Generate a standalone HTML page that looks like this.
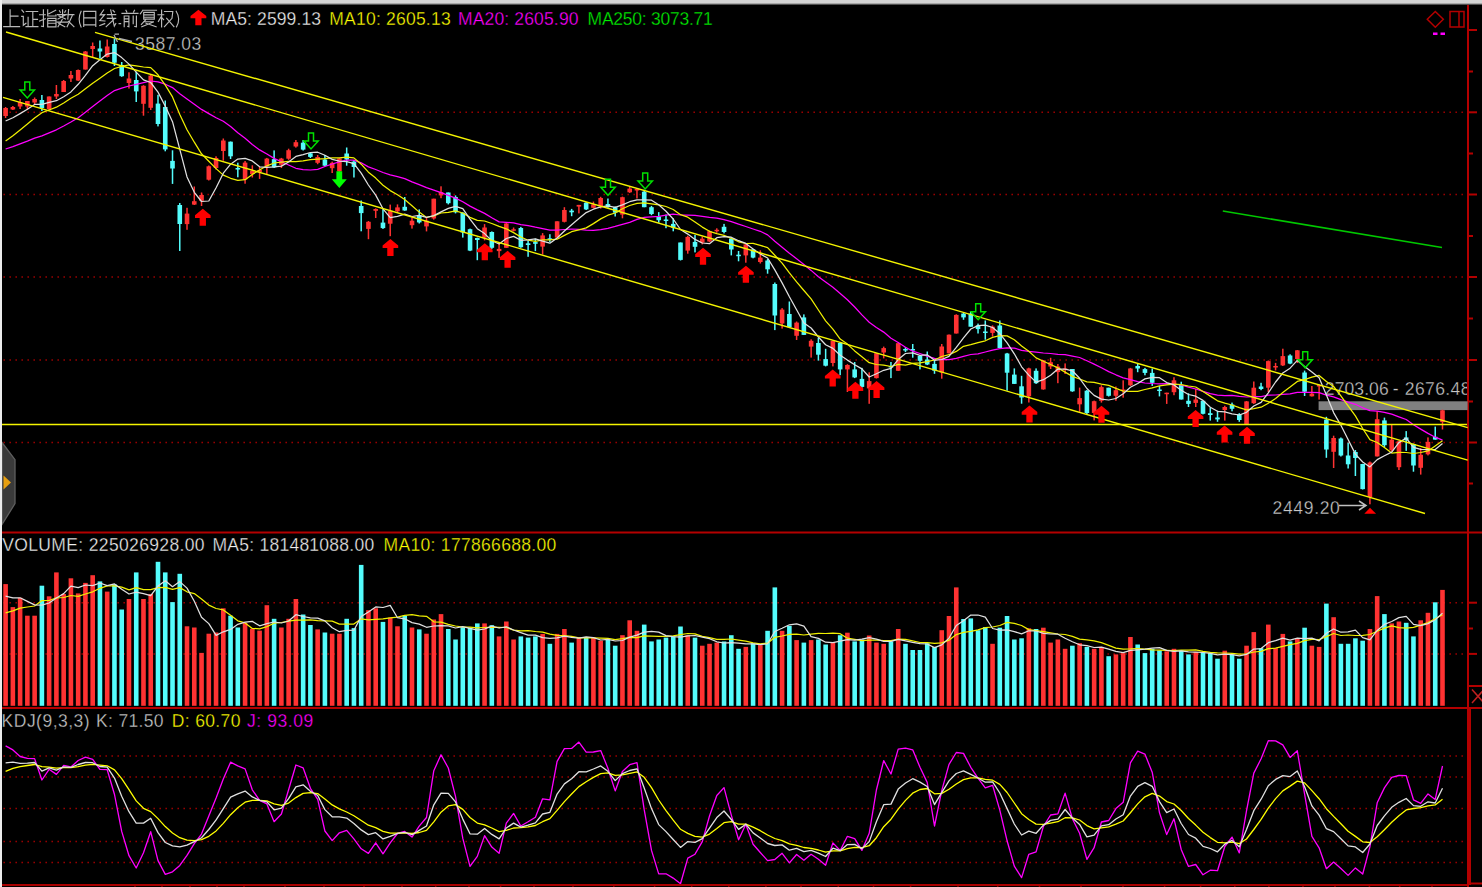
<!DOCTYPE html><html><head><meta charset="utf-8"><style>html,body{margin:0;padding:0;background:#000;width:1482px;height:887px;overflow:hidden;position:relative}</style></head><body><svg width="1482" height="887" viewBox="0 0 1482 887" style="position:absolute;left:0;top:0">
<rect x="0" y="0" width="1482" height="887" fill="#000"/>
<rect x="0" y="0" width="1482" height="3" fill="#d4d4d4"/>
<rect x="0" y="3" width="1482" height="1" fill="#a8a8a8"/>
<rect x="0" y="4" width="1482" height="1" fill="#505050"/>
<rect x="0" y="0" width="2" height="887" fill="#ececec"/>
<line x1="3.45" y1="112.3" x2="1465" y2="112.3" stroke="#a00000" stroke-width="1.5" stroke-dasharray="1.5 4.5"/>
<line x1="3.45" y1="194.5" x2="1465" y2="194.5" stroke="#a00000" stroke-width="1.5" stroke-dasharray="1.5 4.5"/>
<line x1="3.45" y1="277" x2="1465" y2="277" stroke="#a00000" stroke-width="1.5" stroke-dasharray="1.5 4.5"/>
<line x1="3.45" y1="360" x2="1465" y2="360" stroke="#a00000" stroke-width="1.5" stroke-dasharray="1.5 4.5"/>
<line x1="3.45" y1="442.5" x2="1465" y2="442.5" stroke="#a00000" stroke-width="1.5" stroke-dasharray="1.5 4.5"/>
<line x1="3.45" y1="602.7" x2="1465" y2="602.7" stroke="#a00000" stroke-width="1.5" stroke-dasharray="1.5 4.5"/>
<line x1="3.45" y1="653.9" x2="1465" y2="653.9" stroke="#a00000" stroke-width="1.5" stroke-dasharray="1.5 4.5"/>
<line x1="3.45" y1="756" x2="1465" y2="756" stroke="#a00000" stroke-width="1.5" stroke-dasharray="1.5 4.5"/>
<line x1="3.45" y1="777" x2="1465" y2="777" stroke="#a00000" stroke-width="1.5" stroke-dasharray="1.5 4.5"/>
<line x1="3.45" y1="808.6" x2="1465" y2="808.6" stroke="#a00000" stroke-width="1.5" stroke-dasharray="1.5 4.5"/>
<line x1="3.45" y1="841.6" x2="1465" y2="841.6" stroke="#a00000" stroke-width="1.5" stroke-dasharray="1.5 4.5"/>
<line x1="3.45" y1="862.6" x2="1465" y2="862.6" stroke="#a00000" stroke-width="1.5" stroke-dasharray="1.5 4.5"/>
<rect x="2" y="531.5" width="1480" height="2" fill="#b40000"/>
<rect x="2" y="707" width="1480" height="2" fill="#b40000"/>
<rect x="2" y="884" width="1466" height="2" fill="#a80000"/>
<rect x="1469" y="882.5" width="13" height="2" fill="#b40000"/>
<rect x="134.25" y="886" width="1.5" height="1" fill="#900000"/>
<rect x="161.25" y="886" width="1.5" height="1" fill="#900000"/>
<rect x="189.25" y="886" width="1.5" height="1" fill="#900000"/>
<rect x="216.25" y="886" width="1.5" height="1" fill="#900000"/>
<rect x="243.25" y="886" width="1.5" height="1" fill="#900000"/>
<rect x="284.25" y="886" width="1.5" height="1" fill="#900000"/>
<rect x="323.25" y="886" width="1.5" height="1" fill="#900000"/>
<rect x="363.25" y="886" width="1.5" height="1" fill="#900000"/>
<rect x="401.25" y="886" width="1.5" height="1" fill="#900000"/>
<rect x="434.95" y="886" width="1.5" height="1" fill="#900000"/>
<rect x="468.25" y="886" width="1.5" height="1" fill="#900000"/>
<rect x="499.85" y="886" width="1.5" height="1" fill="#900000"/>
<rect x="533.25" y="886" width="1.5" height="1" fill="#900000"/>
<rect x="572.25" y="886" width="1.5" height="1" fill="#900000"/>
<rect x="613.05" y="886" width="1.5" height="1" fill="#900000"/>
<rect x="653.85" y="886" width="1.5" height="1" fill="#900000"/>
<rect x="690.95" y="886" width="1.5" height="1" fill="#900000"/>
<rect x="728.05" y="886" width="1.5" height="1" fill="#900000"/>
<rect x="765.15" y="886" width="1.5" height="1" fill="#900000"/>
<rect x="800.25" y="886" width="1.5" height="1" fill="#900000"/>
<rect x="837.55" y="886" width="1.5" height="1" fill="#900000"/>
<rect x="872.75" y="886" width="1.5" height="1" fill="#900000"/>
<rect x="909.85" y="886" width="1.5" height="1" fill="#900000"/>
<rect x="957.25" y="886" width="1.5" height="1" fill="#900000"/>
<rect x="996.95" y="886" width="1.5" height="1" fill="#900000"/>
<rect x="1038.75" y="886" width="1.5" height="1" fill="#900000"/>
<rect x="1080.25" y="886" width="1.5" height="1" fill="#900000"/>
<rect x="1122.25" y="886" width="1.5" height="1" fill="#900000"/>
<rect x="1163.85" y="886" width="1.5" height="1" fill="#900000"/>
<rect x="1199.85" y="886" width="1.5" height="1" fill="#900000"/>
<rect x="1234.05" y="886" width="1.5" height="1" fill="#900000"/>
<rect x="1268.15" y="886" width="1.5" height="1" fill="#900000"/>
<rect x="1302.25" y="886" width="1.5" height="1" fill="#900000"/>
<rect x="1334.25" y="886" width="1.5" height="1" fill="#900000"/>
<rect x="1368.65" y="886" width="1.5" height="1" fill="#900000"/>
<rect x="1398.95" y="886" width="1.5" height="1" fill="#900000"/>
<rect x="1431.25" y="886" width="1.5" height="1" fill="#900000"/>
<rect x="1467" y="5" width="2" height="882" fill="#b40000"/>
<rect x="1469" y="29" width="8" height="2" fill="#b40000"/>
<rect x="1469" y="111.3" width="8" height="2" fill="#b40000"/>
<rect x="1469" y="193.5" width="8" height="2" fill="#b40000"/>
<rect x="1469" y="276" width="8" height="2" fill="#b40000"/>
<rect x="1469" y="359" width="8" height="2" fill="#b40000"/>
<rect x="1469" y="441.5" width="8" height="2" fill="#b40000"/>
<rect x="1469" y="70.5" width="4" height="2" fill="#b40000"/>
<rect x="1469" y="152.5" width="4" height="2" fill="#b40000"/>
<rect x="1469" y="235" width="4" height="2" fill="#b40000"/>
<rect x="1469" y="317.5" width="4" height="2" fill="#b40000"/>
<rect x="1469" y="400.5" width="4" height="2" fill="#b40000"/>
<rect x="1469" y="482.5" width="4" height="2" fill="#b40000"/>
<rect x="1469" y="601.7" width="8" height="2" fill="#b40000"/>
<rect x="1469" y="652.9" width="8" height="2" fill="#b40000"/>
<rect x="1469" y="627.5" width="4" height="2" fill="#b40000"/>
<rect x="1469" y="685" width="13" height="2" fill="#b40000"/>
<path d="M1472 689.5 L1484 703 M1484 689.5 L1472 703" stroke="#c02020" stroke-width="1.5"/>
<rect x="1469" y="709" width="2" height="176" fill="#b40000"/>
<path d="M1435.3 11.5 L1443.3 19.3 L1435.3 27.2 L1427.3 19.3 Z" fill="none" stroke="#b40000" stroke-width="1.5"/>
<rect x="1450" y="11.5" width="14" height="15.5" fill="none" stroke="#b40000" stroke-width="1.5"/>
<line x1="1459" y1="11.5" x2="1459" y2="27" stroke="#b40000" stroke-width="1.5"/>
<rect x="1433" y="32.5" width="4.5" height="2.5" fill="#ff00ff"/>
<rect x="1440.5" y="32.5" width="4.5" height="2.5" fill="#ff00ff"/>
<path d="M2 442.5 L15 459.6 L15 503.6 L2 524.5 Z" fill="#3a3a3a" stroke="#5e5e5e" stroke-width="1.3"/>
<path d="M3.5 475.5 L11 482.5 L3.5 489.5 Z" fill="#e8a010"/>
<rect x="1318.6" y="401.3" width="149" height="8.8" fill="#808080"/>
<g font-family="Liberation Sans" font-size="17.5px" fill="#c8c8c8" stroke="#000" stroke-width="0.3">
<text x="135" y="50" letter-spacing="0.5">3587.03</text>
<text x="1272.5" y="513.5" letter-spacing="0.68">2449.20</text>
<svg x="0" y="370" width="1467" height="40" overflow="hidden"><text x="1324.8" y="25" letter-spacing="0.1">2703.06</text><text x="1392.8" y="25">-</text><text x="1404.8" y="25" letter-spacing="0.4">2676.48</text></svg>
</g>
<path d="M1339 505.5 L1366 505.5 M1359 501 L1366 505.5 L1359 510" stroke="#c0c0c0" stroke-width="1.5" fill="none"/>
<path d="M1364.3 513.7 L1370 507.8 L1376.1 513.7 Z" fill="#ff0000"/>
<rect x="4.85" y="107.0" width="1.5" height="11.0" fill="#ff3232"/><rect x="3.30" y="108.0" width="4.6" height="8.0" fill="#ff3232"/><rect x="12.11" y="106.0" width="1.5" height="4.0" fill="#ff3232"/><rect x="10.56" y="107.0" width="4.6" height="2.5" fill="#ff3232"/><rect x="19.36" y="99.0" width="1.5" height="10.0" fill="#ff3232"/><rect x="17.81" y="102.0" width="4.6" height="4.5" fill="#ff3232"/><rect x="26.62" y="101.0" width="1.5" height="8.5" fill="#ff3232"/><rect x="25.07" y="101.0" width="4.6" height="5.5" fill="#ff3232"/><rect x="33.88" y="97.5" width="1.5" height="6.5" fill="#ff3232"/><rect x="32.33" y="99.0" width="4.6" height="3.5" fill="#ff3232"/><rect x="41.13" y="95.0" width="1.5" height="16.0" fill="#54fcfc"/><rect x="39.59" y="100.0" width="4.6" height="8.0" fill="#54fcfc"/><rect x="48.39" y="96.5" width="1.5" height="13.5" fill="#ff3232"/><rect x="46.84" y="96.5" width="4.6" height="12.5" fill="#ff3232"/><rect x="55.65" y="85.0" width="1.5" height="14.0" fill="#ff3232"/><rect x="54.10" y="94.0" width="4.6" height="2.5" fill="#ff3232"/><rect x="62.91" y="80.0" width="1.5" height="12.0" fill="#ff3232"/><rect x="61.36" y="81.0" width="4.6" height="11.0" fill="#ff3232"/><rect x="70.16" y="71.0" width="1.5" height="11.0" fill="#ff3232"/><rect x="68.61" y="75.0" width="4.6" height="3.5" fill="#ff3232"/><rect x="77.42" y="69.5" width="1.5" height="11.5" fill="#ff3232"/><rect x="75.87" y="70.0" width="4.6" height="10.5" fill="#ff3232"/><rect x="84.68" y="51.0" width="1.5" height="18.5" fill="#ff3232"/><rect x="83.13" y="51.5" width="4.6" height="18.0" fill="#ff3232"/><rect x="91.93" y="42.5" width="1.5" height="14.5" fill="#ff3232"/><rect x="90.38" y="46.0" width="4.6" height="3.0" fill="#ff3232"/><rect x="99.19" y="40.5" width="1.5" height="18.0" fill="#54fcfc"/><rect x="97.64" y="48.5" width="4.6" height="3.0" fill="#54fcfc"/><rect x="106.45" y="39.5" width="1.5" height="18.0" fill="#ff3232"/><rect x="104.90" y="46.5" width="4.6" height="10.5" fill="#ff3232"/><rect x="113.70" y="38.6" width="1.5" height="27.4" fill="#54fcfc"/><rect x="112.15" y="44.0" width="4.6" height="18.7" fill="#54fcfc"/><rect x="120.96" y="62.0" width="1.5" height="14.8" fill="#54fcfc"/><rect x="119.41" y="65.0" width="4.6" height="11.2" fill="#54fcfc"/><rect x="128.22" y="72.3" width="1.5" height="16.3" fill="#ff3232"/><rect x="126.67" y="78.5" width="4.6" height="4.5" fill="#ff3232"/><rect x="135.48" y="71.7" width="1.5" height="30.3" fill="#54fcfc"/><rect x="133.93" y="80.0" width="4.6" height="11.4" fill="#54fcfc"/><rect x="142.73" y="85.2" width="1.5" height="30.5" fill="#ff3232"/><rect x="141.18" y="85.8" width="4.6" height="18.0" fill="#ff3232"/><rect x="149.99" y="75.0" width="1.5" height="35.0" fill="#ff3232"/><rect x="148.44" y="75.6" width="4.6" height="32.2" fill="#ff3232"/><rect x="157.25" y="94.8" width="1.5" height="31.6" fill="#54fcfc"/><rect x="155.70" y="103.6" width="4.6" height="20.4" fill="#54fcfc"/><rect x="164.50" y="100.5" width="1.5" height="50.8" fill="#54fcfc"/><rect x="162.95" y="107.0" width="4.6" height="42.4" fill="#54fcfc"/><rect x="171.76" y="150.3" width="1.5" height="33.6" fill="#54fcfc"/><rect x="170.21" y="160.9" width="4.6" height="7.6" fill="#54fcfc"/><rect x="179.02" y="203.0" width="1.5" height="48.0" fill="#54fcfc"/><rect x="177.47" y="205.0" width="4.6" height="19.0" fill="#54fcfc"/><rect x="186.27" y="207.8" width="1.5" height="22.0" fill="#ff3232"/><rect x="184.72" y="213.6" width="4.6" height="10.5" fill="#ff3232"/><rect x="193.53" y="186.5" width="1.5" height="18.5" fill="#ff3232"/><rect x="191.98" y="201.2" width="4.6" height="3.4" fill="#ff3232"/><rect x="200.79" y="192.5" width="1.5" height="13.5" fill="#ff3232"/><rect x="199.24" y="195.0" width="4.6" height="5.8" fill="#ff3232"/><rect x="208.05" y="165.5" width="1.5" height="15.0" fill="#ff3232"/><rect x="206.50" y="166.3" width="4.6" height="13.4" fill="#ff3232"/><rect x="215.30" y="156.3" width="1.5" height="13.2" fill="#ff3232"/><rect x="213.75" y="158.0" width="4.6" height="10.0" fill="#ff3232"/><rect x="222.56" y="138.5" width="1.5" height="22.2" fill="#ff3232"/><rect x="221.01" y="140.5" width="4.6" height="10.5" fill="#ff3232"/><rect x="229.82" y="141.5" width="1.5" height="17.5" fill="#54fcfc"/><rect x="228.27" y="141.7" width="4.6" height="14.6" fill="#54fcfc"/><rect x="237.07" y="162.7" width="1.5" height="14.6" fill="#54fcfc"/><rect x="235.52" y="168.0" width="4.6" height="1.5" fill="#54fcfc"/><rect x="244.33" y="161.0" width="1.5" height="22.7" fill="#ff3232"/><rect x="242.78" y="162.6" width="4.6" height="16.9" fill="#ff3232"/><rect x="251.59" y="165.3" width="1.5" height="12.2" fill="#ff3232"/><rect x="250.04" y="170.7" width="4.6" height="3.4" fill="#ff3232"/><rect x="258.84" y="166.7" width="1.5" height="12.2" fill="#ff3232"/><rect x="257.29" y="170.0" width="4.6" height="2.0" fill="#ff3232"/><rect x="266.10" y="157.9" width="1.5" height="16.2" fill="#ff3232"/><rect x="264.55" y="158.6" width="4.6" height="7.9" fill="#ff3232"/><rect x="273.36" y="150.4" width="1.5" height="17.6" fill="#54fcfc"/><rect x="271.81" y="159.2" width="4.6" height="8.2" fill="#54fcfc"/><rect x="280.62" y="157.9" width="1.5" height="10.1" fill="#ff3232"/><rect x="279.07" y="158.6" width="4.6" height="6.1" fill="#ff3232"/><rect x="287.87" y="148.7" width="1.5" height="11.1" fill="#ff3232"/><rect x="286.32" y="150.2" width="4.6" height="8.5" fill="#ff3232"/><rect x="295.13" y="140.0" width="1.5" height="7.6" fill="#ff3232"/><rect x="293.58" y="142.2" width="4.6" height="4.3" fill="#ff3232"/><rect x="302.39" y="140.0" width="1.5" height="10.5" fill="#54fcfc"/><rect x="300.84" y="142.7" width="4.6" height="6.9" fill="#54fcfc"/><rect x="309.64" y="153.0" width="1.5" height="5.0" fill="#54fcfc"/><rect x="308.09" y="153.3" width="4.6" height="3.6" fill="#54fcfc"/><rect x="316.90" y="155.0" width="1.5" height="9.2" fill="#ff3232"/><rect x="315.35" y="157.0" width="4.6" height="5.8" fill="#ff3232"/><rect x="324.16" y="155.0" width="1.5" height="11.2" fill="#54fcfc"/><rect x="322.61" y="159.5" width="4.6" height="6.2" fill="#54fcfc"/><rect x="331.42" y="161.6" width="1.5" height="11.4" fill="#ff3232"/><rect x="329.87" y="162.8" width="4.6" height="5.4" fill="#ff3232"/><rect x="338.67" y="158.0" width="1.5" height="14.0" fill="#ff3232"/><rect x="337.12" y="158.4" width="4.6" height="12.9" fill="#ff3232"/><rect x="345.93" y="147.5" width="1.5" height="18.2" fill="#54fcfc"/><rect x="344.38" y="153.5" width="4.6" height="6.0" fill="#54fcfc"/><rect x="353.19" y="160.0" width="1.5" height="17.5" fill="#54fcfc"/><rect x="351.64" y="161.6" width="4.6" height="5.4" fill="#54fcfc"/><rect x="360.44" y="200.5" width="1.5" height="30.8" fill="#54fcfc"/><rect x="358.89" y="206.0" width="4.6" height="7.1" fill="#54fcfc"/><rect x="367.70" y="221.0" width="1.5" height="18.2" fill="#ff3232"/><rect x="366.15" y="221.8" width="4.6" height="7.1" fill="#ff3232"/><rect x="374.96" y="208.4" width="1.5" height="9.6" fill="#ff3232"/><rect x="373.41" y="209.0" width="4.6" height="1.8" fill="#ff3232"/><rect x="382.21" y="209.2" width="1.5" height="19.7" fill="#54fcfc"/><rect x="380.66" y="222.6" width="4.6" height="5.5" fill="#54fcfc"/><rect x="389.47" y="204.6" width="1.5" height="31.6" fill="#ff3232"/><rect x="387.92" y="210.8" width="4.6" height="12.9" fill="#ff3232"/><rect x="396.73" y="204.4" width="1.5" height="8.6" fill="#ff3232"/><rect x="395.18" y="207.4" width="4.6" height="3.9" fill="#ff3232"/><rect x="403.99" y="197.0" width="1.5" height="13.8" fill="#54fcfc"/><rect x="402.44" y="206.8" width="4.6" height="3.7" fill="#54fcfc"/><rect x="411.24" y="217.3" width="1.5" height="11.3" fill="#ff3232"/><rect x="409.69" y="220.7" width="4.6" height="4.5" fill="#ff3232"/><rect x="418.50" y="209.4" width="1.5" height="14.1" fill="#54fcfc"/><rect x="416.95" y="215.0" width="4.6" height="7.4" fill="#54fcfc"/><rect x="425.76" y="217.3" width="1.5" height="14.1" fill="#ff3232"/><rect x="424.21" y="220.7" width="4.6" height="5.7" fill="#ff3232"/><rect x="433.01" y="198.7" width="1.5" height="20.9" fill="#ff3232"/><rect x="431.46" y="198.7" width="4.6" height="19.8" fill="#ff3232"/><rect x="440.27" y="186.3" width="1.5" height="11.9" fill="#ff3232"/><rect x="438.72" y="192.0" width="4.6" height="3.4" fill="#ff3232"/><rect x="447.53" y="192.5" width="1.5" height="11.9" fill="#54fcfc"/><rect x="445.98" y="192.5" width="4.6" height="10.7" fill="#54fcfc"/><rect x="454.78" y="195.4" width="1.5" height="18.0" fill="#54fcfc"/><rect x="453.23" y="197.0" width="4.6" height="15.3" fill="#54fcfc"/><rect x="462.04" y="212.3" width="1.5" height="25.3" fill="#54fcfc"/><rect x="460.49" y="212.8" width="4.6" height="19.7" fill="#54fcfc"/><rect x="469.30" y="228.6" width="1.5" height="22.5" fill="#54fcfc"/><rect x="467.75" y="229.2" width="4.6" height="21.4" fill="#54fcfc"/><rect x="476.56" y="237.6" width="1.5" height="22.6" fill="#54fcfc"/><rect x="475.00" y="238.0" width="4.6" height="2.0" fill="#54fcfc"/><rect x="483.81" y="224.1" width="1.5" height="16.3" fill="#ff3232"/><rect x="482.26" y="227.5" width="4.6" height="10.1" fill="#ff3232"/><rect x="491.07" y="231.4" width="1.5" height="17.5" fill="#54fcfc"/><rect x="489.52" y="232.0" width="4.6" height="15.8" fill="#54fcfc"/><rect x="498.33" y="243.3" width="1.5" height="14.6" fill="#ff3232"/><rect x="496.78" y="248.9" width="4.6" height="2.2" fill="#ff3232"/><rect x="505.58" y="222.4" width="1.5" height="25.4" fill="#ff3232"/><rect x="504.03" y="223.5" width="4.6" height="24.3" fill="#ff3232"/><rect x="512.84" y="227.5" width="1.5" height="3.9" fill="#ff3232"/><rect x="511.29" y="229.3" width="4.6" height="1.5" fill="#ff3232"/><rect x="520.10" y="226.9" width="1.5" height="20.9" fill="#54fcfc"/><rect x="518.55" y="228.0" width="4.6" height="19.2" fill="#54fcfc"/><rect x="527.35" y="241.0" width="1.5" height="15.8" fill="#54fcfc"/><rect x="525.80" y="243.3" width="4.6" height="1.7" fill="#54fcfc"/><rect x="534.61" y="238.7" width="1.5" height="12.4" fill="#54fcfc"/><rect x="533.06" y="242.1" width="4.6" height="1.7" fill="#54fcfc"/><rect x="541.87" y="233.1" width="1.5" height="21.4" fill="#ff3232"/><rect x="540.32" y="235.4" width="4.6" height="11.2" fill="#ff3232"/><rect x="549.12" y="234.2" width="1.5" height="7.9" fill="#54fcfc"/><rect x="547.58" y="238.3" width="4.6" height="1.5" fill="#54fcfc"/><rect x="556.38" y="221.3" width="1.5" height="16.3" fill="#ff3232"/><rect x="554.83" y="221.3" width="4.6" height="16.3" fill="#ff3232"/><rect x="563.64" y="207.2" width="1.5" height="15.2" fill="#ff3232"/><rect x="562.09" y="210.0" width="4.6" height="11.8" fill="#ff3232"/><rect x="570.90" y="208.9" width="1.5" height="7.3" fill="#54fcfc"/><rect x="569.35" y="210.6" width="4.6" height="1.7" fill="#54fcfc"/><rect x="578.15" y="204.9" width="1.5" height="8.5" fill="#ff3232"/><rect x="576.60" y="204.9" width="4.6" height="1.7" fill="#ff3232"/><rect x="585.41" y="202.0" width="1.5" height="8.0" fill="#54fcfc"/><rect x="583.86" y="202.7" width="4.6" height="6.7" fill="#54fcfc"/><rect x="592.67" y="201.6" width="1.5" height="6.7" fill="#ff3232"/><rect x="591.12" y="204.4" width="4.6" height="3.4" fill="#ff3232"/><rect x="599.92" y="196.8" width="1.5" height="11.8" fill="#ff3232"/><rect x="598.37" y="198.0" width="4.6" height="8.3" fill="#ff3232"/><rect x="607.18" y="198.5" width="1.5" height="9.3" fill="#54fcfc"/><rect x="605.63" y="204.0" width="4.6" height="3.2" fill="#54fcfc"/><rect x="614.44" y="206.5" width="1.5" height="10.0" fill="#54fcfc"/><rect x="612.89" y="207.2" width="4.6" height="5.5" fill="#54fcfc"/><rect x="621.70" y="196.6" width="1.5" height="21.7" fill="#ff3232"/><rect x="620.15" y="197.2" width="4.6" height="17.4" fill="#ff3232"/><rect x="628.95" y="186.7" width="1.5" height="6.2" fill="#ff3232"/><rect x="627.40" y="188.6" width="4.6" height="3.7" fill="#ff3232"/><rect x="636.21" y="189.0" width="1.5" height="9.5" fill="#ff3232"/><rect x="634.66" y="189.0" width="4.6" height="1.5" fill="#ff3232"/><rect x="643.47" y="189.8" width="1.5" height="17.4" fill="#54fcfc"/><rect x="641.92" y="191.7" width="4.6" height="15.5" fill="#54fcfc"/><rect x="650.72" y="205.9" width="1.5" height="9.3" fill="#54fcfc"/><rect x="649.17" y="207.2" width="4.6" height="6.8" fill="#54fcfc"/><rect x="657.98" y="212.1" width="1.5" height="10.6" fill="#54fcfc"/><rect x="656.43" y="216.5" width="4.6" height="3.7" fill="#54fcfc"/><rect x="665.24" y="214.6" width="1.5" height="13.6" fill="#54fcfc"/><rect x="663.69" y="219.5" width="4.6" height="1.5" fill="#54fcfc"/><rect x="672.49" y="218.3" width="1.5" height="13.0" fill="#54fcfc"/><rect x="670.94" y="223.9" width="4.6" height="3.7" fill="#54fcfc"/><rect x="679.75" y="242.5" width="1.5" height="18.0" fill="#54fcfc"/><rect x="678.20" y="242.5" width="4.6" height="17.4" fill="#54fcfc"/><rect x="687.01" y="235.7" width="1.5" height="18.0" fill="#ff3232"/><rect x="685.46" y="236.9" width="4.6" height="13.7" fill="#ff3232"/><rect x="694.26" y="235.0" width="1.5" height="17.4" fill="#54fcfc"/><rect x="692.72" y="241.9" width="4.6" height="4.9" fill="#54fcfc"/><rect x="701.52" y="236.6" width="1.5" height="7.8" fill="#ff3232"/><rect x="699.97" y="238.7" width="4.6" height="4.0" fill="#ff3232"/><rect x="708.78" y="230.5" width="1.5" height="11.7" fill="#ff3232"/><rect x="707.23" y="231.2" width="4.6" height="10.3" fill="#ff3232"/><rect x="716.04" y="228.3" width="1.5" height="4.4" fill="#ff3232"/><rect x="714.49" y="229.8" width="4.6" height="1.5" fill="#ff3232"/><rect x="723.29" y="223.9" width="1.5" height="9.5" fill="#54fcfc"/><rect x="721.74" y="226.8" width="4.6" height="5.2" fill="#54fcfc"/><rect x="730.55" y="237.8" width="1.5" height="17.6" fill="#54fcfc"/><rect x="729.00" y="238.6" width="4.6" height="10.9" fill="#54fcfc"/><rect x="737.81" y="251.0" width="1.5" height="10.3" fill="#54fcfc"/><rect x="736.26" y="254.7" width="4.6" height="1.5" fill="#54fcfc"/><rect x="745.06" y="243.7" width="1.5" height="19.0" fill="#ff3232"/><rect x="743.51" y="244.4" width="4.6" height="11.0" fill="#ff3232"/><rect x="752.32" y="248.8" width="1.5" height="9.5" fill="#54fcfc"/><rect x="750.77" y="249.5" width="4.6" height="8.1" fill="#54fcfc"/><rect x="759.58" y="250.3" width="1.5" height="13.2" fill="#ff3232"/><rect x="758.03" y="257.6" width="4.6" height="4.4" fill="#ff3232"/><rect x="766.84" y="259.0" width="1.5" height="14.7" fill="#54fcfc"/><rect x="765.29" y="260.5" width="4.6" height="8.8" fill="#54fcfc"/><rect x="774.09" y="282.5" width="1.5" height="47.6" fill="#54fcfc"/><rect x="772.54" y="284.0" width="4.6" height="31.5" fill="#54fcfc"/><rect x="781.35" y="308.1" width="1.5" height="20.5" fill="#ff3232"/><rect x="779.80" y="309.6" width="4.6" height="13.9" fill="#ff3232"/><rect x="788.61" y="301.5" width="1.5" height="25.7" fill="#54fcfc"/><rect x="787.06" y="314.0" width="4.6" height="13.2" fill="#54fcfc"/><rect x="795.86" y="321.5" width="1.5" height="18.5" fill="#ff3232"/><rect x="794.31" y="322.6" width="4.6" height="13.2" fill="#ff3232"/><rect x="803.12" y="314.4" width="1.5" height="20.5" fill="#54fcfc"/><rect x="801.57" y="317.4" width="4.6" height="17.5" fill="#54fcfc"/><rect x="810.38" y="339.3" width="1.5" height="18.3" fill="#ff3232"/><rect x="808.83" y="340.8" width="4.6" height="5.8" fill="#ff3232"/><rect x="817.63" y="337.9" width="1.5" height="22.7" fill="#54fcfc"/><rect x="816.08" y="343.0" width="4.6" height="11.7" fill="#54fcfc"/><rect x="824.89" y="348.8" width="1.5" height="17.6" fill="#54fcfc"/><rect x="823.34" y="359.1" width="4.6" height="6.6" fill="#54fcfc"/><rect x="832.15" y="340.5" width="1.5" height="25.9" fill="#ff3232"/><rect x="830.60" y="340.8" width="4.6" height="22.2" fill="#ff3232"/><rect x="839.40" y="342.3" width="1.5" height="32.9" fill="#54fcfc"/><rect x="837.86" y="343.0" width="4.6" height="26.4" fill="#54fcfc"/><rect x="846.66" y="364.2" width="1.5" height="27.8" fill="#ff3232"/><rect x="845.11" y="365.0" width="4.6" height="4.4" fill="#ff3232"/><rect x="853.92" y="362.0" width="1.5" height="16.1" fill="#54fcfc"/><rect x="852.37" y="369.4" width="4.6" height="8.0" fill="#54fcfc"/><rect x="861.18" y="367.9" width="1.5" height="19.8" fill="#54fcfc"/><rect x="859.63" y="378.9" width="4.6" height="8.0" fill="#54fcfc"/><rect x="868.43" y="372.3" width="1.5" height="31.5" fill="#ff3232"/><rect x="866.88" y="381.1" width="4.6" height="7.3" fill="#ff3232"/><rect x="875.69" y="353.0" width="1.5" height="25.5" fill="#ff3232"/><rect x="874.14" y="353.2" width="4.6" height="24.9" fill="#ff3232"/><rect x="882.95" y="346.6" width="1.5" height="11.8" fill="#ff3232"/><rect x="881.40" y="348.1" width="4.6" height="4.4" fill="#ff3232"/><rect x="890.20" y="362.0" width="1.5" height="16.1" fill="#54fcfc"/><rect x="888.65" y="366.0" width="4.6" height="1.5" fill="#54fcfc"/><rect x="897.46" y="343.0" width="1.5" height="28.0" fill="#ff3232"/><rect x="895.91" y="343.2" width="4.6" height="27.6" fill="#ff3232"/><rect x="904.72" y="347.1" width="1.5" height="5.0" fill="#54fcfc"/><rect x="903.17" y="349.0" width="4.6" height="1.5" fill="#54fcfc"/><rect x="911.98" y="344.0" width="1.5" height="13.7" fill="#54fcfc"/><rect x="910.43" y="349.0" width="4.6" height="1.5" fill="#54fcfc"/><rect x="919.23" y="355.2" width="1.5" height="14.2" fill="#54fcfc"/><rect x="917.68" y="355.8" width="4.6" height="5.0" fill="#54fcfc"/><rect x="926.49" y="351.5" width="1.5" height="13.6" fill="#54fcfc"/><rect x="924.94" y="359.5" width="4.6" height="5.0" fill="#54fcfc"/><rect x="933.75" y="360.8" width="1.5" height="13.0" fill="#54fcfc"/><rect x="932.20" y="363.9" width="4.6" height="6.8" fill="#54fcfc"/><rect x="941.00" y="344.0" width="1.5" height="34.7" fill="#ff3232"/><rect x="939.45" y="346.5" width="4.6" height="26.0" fill="#ff3232"/><rect x="948.26" y="334.5" width="1.5" height="19.0" fill="#ff3232"/><rect x="946.71" y="334.7" width="4.6" height="18.6" fill="#ff3232"/><rect x="955.52" y="314.3" width="1.5" height="19.2" fill="#ff3232"/><rect x="953.97" y="314.9" width="4.6" height="18.6" fill="#ff3232"/><rect x="962.77" y="312.4" width="1.5" height="7.4" fill="#54fcfc"/><rect x="961.22" y="313.6" width="4.6" height="3.8" fill="#54fcfc"/><rect x="970.03" y="311.8" width="1.5" height="14.9" fill="#54fcfc"/><rect x="968.48" y="313.6" width="4.6" height="13.1" fill="#54fcfc"/><rect x="977.29" y="323.6" width="1.5" height="9.9" fill="#54fcfc"/><rect x="975.74" y="325.4" width="4.6" height="3.7" fill="#54fcfc"/><rect x="984.54" y="320.5" width="1.5" height="19.2" fill="#54fcfc"/><rect x="983.00" y="331.5" width="4.6" height="1.5" fill="#54fcfc"/><rect x="991.80" y="325.4" width="1.5" height="11.2" fill="#ff3232"/><rect x="990.25" y="326.7" width="4.6" height="6.2" fill="#ff3232"/><rect x="999.06" y="320.5" width="1.5" height="27.9" fill="#54fcfc"/><rect x="997.51" y="325.5" width="4.6" height="22.5" fill="#54fcfc"/><rect x="1006.32" y="352.9" width="1.5" height="37.8" fill="#54fcfc"/><rect x="1004.77" y="353.5" width="4.6" height="19.2" fill="#54fcfc"/><rect x="1013.57" y="368.4" width="1.5" height="15.5" fill="#54fcfc"/><rect x="1012.02" y="374.6" width="4.6" height="9.3" fill="#54fcfc"/><rect x="1020.83" y="375.8" width="1.5" height="27.9" fill="#54fcfc"/><rect x="1019.28" y="386.3" width="4.6" height="11.2" fill="#54fcfc"/><rect x="1028.09" y="367.7" width="1.5" height="34.8" fill="#ff3232"/><rect x="1026.54" y="368.4" width="4.6" height="27.9" fill="#ff3232"/><rect x="1035.34" y="368.4" width="1.5" height="15.5" fill="#54fcfc"/><rect x="1033.79" y="370.8" width="4.6" height="12.4" fill="#54fcfc"/><rect x="1042.60" y="360.0" width="1.5" height="29.7" fill="#ff3232"/><rect x="1041.05" y="360.3" width="4.6" height="29.1" fill="#ff3232"/><rect x="1049.86" y="357.8" width="1.5" height="11.2" fill="#ff3232"/><rect x="1048.31" y="362.2" width="4.6" height="4.3" fill="#ff3232"/><rect x="1057.11" y="364.0" width="1.5" height="19.2" fill="#ff3232"/><rect x="1055.56" y="366.5" width="4.6" height="5.6" fill="#ff3232"/><rect x="1064.37" y="363.4" width="1.5" height="10.6" fill="#ff3232"/><rect x="1062.82" y="368.5" width="4.6" height="1.5" fill="#ff3232"/><rect x="1071.63" y="369.0" width="1.5" height="22.8" fill="#54fcfc"/><rect x="1070.08" y="369.0" width="4.6" height="22.3" fill="#54fcfc"/><rect x="1078.89" y="387.6" width="1.5" height="24.2" fill="#ff3232"/><rect x="1077.34" y="398.1" width="4.6" height="6.2" fill="#ff3232"/><rect x="1086.14" y="390.0" width="1.5" height="24.2" fill="#54fcfc"/><rect x="1084.59" y="390.7" width="4.6" height="22.3" fill="#54fcfc"/><rect x="1093.40" y="400.6" width="1.5" height="19.8" fill="#ff3232"/><rect x="1091.85" y="401.2" width="4.6" height="11.8" fill="#ff3232"/><rect x="1100.66" y="385.3" width="1.5" height="17.3" fill="#ff3232"/><rect x="1099.11" y="387.1" width="4.6" height="13.7" fill="#ff3232"/><rect x="1107.91" y="387.7" width="1.5" height="8.8" fill="#54fcfc"/><rect x="1106.36" y="387.7" width="4.6" height="8.1" fill="#54fcfc"/><rect x="1115.17" y="386.5" width="1.5" height="14.3" fill="#ff3232"/><rect x="1113.62" y="390.2" width="4.6" height="5.6" fill="#ff3232"/><rect x="1122.43" y="380.3" width="1.5" height="17.4" fill="#ff3232"/><rect x="1120.88" y="389.5" width="4.6" height="1.5" fill="#ff3232"/><rect x="1129.68" y="367.9" width="1.5" height="18.0" fill="#ff3232"/><rect x="1128.13" y="368.5" width="4.6" height="16.8" fill="#ff3232"/><rect x="1136.94" y="363.6" width="1.5" height="8.6" fill="#54fcfc"/><rect x="1135.39" y="366.0" width="4.6" height="2.5" fill="#54fcfc"/><rect x="1144.20" y="367.9" width="1.5" height="7.4" fill="#54fcfc"/><rect x="1142.65" y="369.1" width="4.6" height="3.8" fill="#54fcfc"/><rect x="1151.46" y="368.5" width="1.5" height="17.4" fill="#54fcfc"/><rect x="1149.91" y="372.9" width="4.6" height="9.9" fill="#54fcfc"/><rect x="1158.71" y="385.9" width="1.5" height="10.5" fill="#54fcfc"/><rect x="1157.16" y="389.5" width="4.6" height="1.5" fill="#54fcfc"/><rect x="1165.97" y="392.7" width="1.5" height="11.2" fill="#ff3232"/><rect x="1164.42" y="392.7" width="4.6" height="1.5" fill="#ff3232"/><rect x="1173.23" y="377.2" width="1.5" height="18.0" fill="#ff3232"/><rect x="1171.68" y="380.3" width="4.6" height="11.9" fill="#ff3232"/><rect x="1180.48" y="381.7" width="1.5" height="17.8" fill="#54fcfc"/><rect x="1178.93" y="384.8" width="4.6" height="14.7" fill="#54fcfc"/><rect x="1187.74" y="393.3" width="1.5" height="13.7" fill="#54fcfc"/><rect x="1186.19" y="400.8" width="4.6" height="3.1" fill="#54fcfc"/><rect x="1195.00" y="388.7" width="1.5" height="18.3" fill="#ff3232"/><rect x="1193.45" y="399.5" width="4.6" height="3.4" fill="#ff3232"/><rect x="1202.25" y="400.8" width="1.5" height="13.6" fill="#54fcfc"/><rect x="1200.70" y="400.8" width="4.6" height="13.0" fill="#54fcfc"/><rect x="1209.51" y="407.6" width="1.5" height="13.0" fill="#54fcfc"/><rect x="1207.96" y="413.2" width="4.6" height="1.8" fill="#54fcfc"/><rect x="1216.77" y="410.7" width="1.5" height="11.1" fill="#54fcfc"/><rect x="1215.22" y="417.5" width="4.6" height="1.9" fill="#54fcfc"/><rect x="1224.03" y="405.7" width="1.5" height="14.9" fill="#ff3232"/><rect x="1222.48" y="407.0" width="4.6" height="3.0" fill="#ff3232"/><rect x="1231.28" y="402.6" width="1.5" height="8.7" fill="#54fcfc"/><rect x="1229.73" y="404.5" width="4.6" height="4.3" fill="#54fcfc"/><rect x="1238.54" y="413.2" width="1.5" height="8.6" fill="#54fcfc"/><rect x="1236.99" y="414.4" width="4.6" height="5.6" fill="#54fcfc"/><rect x="1245.80" y="401.0" width="1.5" height="23.5" fill="#ff3232"/><rect x="1244.25" y="401.4" width="4.6" height="22.9" fill="#ff3232"/><rect x="1253.05" y="381.5" width="1.5" height="22.4" fill="#ff3232"/><rect x="1251.50" y="387.7" width="4.6" height="15.5" fill="#ff3232"/><rect x="1260.31" y="382.8" width="1.5" height="7.4" fill="#54fcfc"/><rect x="1258.76" y="386.5" width="4.6" height="2.5" fill="#54fcfc"/><rect x="1267.57" y="360.5" width="1.5" height="31.5" fill="#ff3232"/><rect x="1266.02" y="361.1" width="4.6" height="26.6" fill="#ff3232"/><rect x="1274.82" y="362.9" width="1.5" height="7.5" fill="#ff3232"/><rect x="1273.27" y="366.0" width="4.6" height="1.5" fill="#ff3232"/><rect x="1282.08" y="348.7" width="1.5" height="17.3" fill="#ff3232"/><rect x="1280.53" y="356.1" width="4.6" height="9.3" fill="#ff3232"/><rect x="1289.34" y="354.3" width="1.5" height="9.9" fill="#54fcfc"/><rect x="1287.79" y="355.5" width="4.6" height="8.1" fill="#54fcfc"/><rect x="1296.60" y="350.0" width="1.5" height="13.0" fill="#ff3232"/><rect x="1295.05" y="350.3" width="4.6" height="8.7" fill="#ff3232"/><rect x="1303.85" y="370.6" width="1.5" height="25.4" fill="#54fcfc"/><rect x="1302.30" y="372.5" width="4.6" height="19.2" fill="#54fcfc"/><rect x="1311.11" y="386.0" width="1.5" height="10.5" fill="#ff3232"/><rect x="1309.56" y="393.6" width="4.6" height="2.7" fill="#ff3232"/><rect x="1318.37" y="384.5" width="1.5" height="15.1" fill="#ff3232"/><rect x="1316.82" y="385.0" width="4.6" height="1.5" fill="#ff3232"/><rect x="1325.62" y="416.8" width="1.5" height="41.0" fill="#54fcfc"/><rect x="1324.07" y="419.6" width="4.6" height="29.9" fill="#54fcfc"/><rect x="1332.88" y="435.7" width="1.5" height="32.3" fill="#ff3232"/><rect x="1331.33" y="438.0" width="4.6" height="13.8" fill="#ff3232"/><rect x="1340.14" y="437.5" width="1.5" height="19.0" fill="#54fcfc"/><rect x="1338.59" y="438.5" width="4.6" height="17.0" fill="#54fcfc"/><rect x="1347.39" y="442.6" width="1.5" height="25.9" fill="#54fcfc"/><rect x="1345.84" y="455.5" width="4.6" height="8.8" fill="#54fcfc"/><rect x="1354.65" y="450.0" width="1.5" height="26.0" fill="#54fcfc"/><rect x="1353.10" y="452.0" width="4.6" height="6.0" fill="#54fcfc"/><rect x="1361.91" y="463.8" width="1.5" height="25.7" fill="#54fcfc"/><rect x="1360.36" y="464.0" width="4.6" height="25.1" fill="#54fcfc"/><rect x="1369.17" y="461.5" width="1.5" height="42.8" fill="#ff3232"/><rect x="1367.62" y="462.5" width="4.6" height="34.5" fill="#ff3232"/><rect x="1376.42" y="411.0" width="1.5" height="45.5" fill="#ff3232"/><rect x="1374.87" y="419.2" width="4.6" height="37.2" fill="#ff3232"/><rect x="1383.68" y="417.6" width="1.5" height="29.3" fill="#54fcfc"/><rect x="1382.13" y="420.4" width="4.6" height="24.8" fill="#54fcfc"/><rect x="1390.94" y="425.0" width="1.5" height="26.4" fill="#ff3232"/><rect x="1389.39" y="439.6" width="4.6" height="10.7" fill="#ff3232"/><rect x="1398.19" y="440.7" width="1.5" height="29.3" fill="#ff3232"/><rect x="1396.64" y="441.3" width="4.6" height="25.9" fill="#ff3232"/><rect x="1405.45" y="431.1" width="1.5" height="19.8" fill="#54fcfc"/><rect x="1403.90" y="437.4" width="4.6" height="2.8" fill="#54fcfc"/><rect x="1412.71" y="443.6" width="1.5" height="28.1" fill="#54fcfc"/><rect x="1411.16" y="444.1" width="4.6" height="21.4" fill="#54fcfc"/><rect x="1419.96" y="448.1" width="1.5" height="26.5" fill="#ff3232"/><rect x="1418.41" y="454.8" width="4.6" height="13.0" fill="#ff3232"/><rect x="1427.22" y="437.4" width="1.5" height="18.0" fill="#ff3232"/><rect x="1425.67" y="441.9" width="4.6" height="12.4" fill="#ff3232"/><rect x="1434.48" y="426.6" width="1.5" height="13.0" fill="#54fcfc"/><rect x="1432.93" y="436.8" width="4.6" height="2.8" fill="#54fcfc"/><rect x="1441.74" y="409.7" width="1.5" height="19.8" fill="#ff3232"/><rect x="1440.19" y="410.3" width="4.6" height="11.8" fill="#ff3232"/>
<polyline points="5.6,149.0 12.9,146.6 20.1,143.8 27.4,141.1 34.6,138.2 41.9,135.8 49.1,132.9 56.4,129.8 63.7,126.0 70.9,122.0 78.2,117.7 85.4,112.2 92.7,106.5 99.9,101.1 107.2,95.5 114.5,90.6 121.7,88.2 129.0,86.0 136.2,84.4 143.5,82.6 150.7,81.0 158.0,81.8 165.3,84.2 172.5,87.6 179.8,93.8 187.0,99.1 194.3,104.3 201.5,109.4 208.8,113.6 216.1,117.8 223.3,121.3 230.6,126.5 237.8,132.7 245.1,138.3 252.3,144.5 259.6,149.9 266.9,154.0 274.1,158.4 281.4,161.8 288.6,165.0 295.9,168.3 303.1,169.6 310.4,170.0 317.7,169.4 324.9,166.5 332.2,164.0 339.4,161.8 346.7,160.0 353.9,160.1 361.2,162.8 368.4,166.9 375.7,169.5 383.0,172.5 390.2,174.9 397.5,176.7 404.7,178.7 412.0,181.8 419.2,184.6 426.5,187.7 433.8,190.1 441.0,192.6 448.3,195.3 455.5,198.1 462.8,201.8 470.0,206.1 477.3,209.9 484.6,213.4 491.8,217.8 499.1,221.9 506.3,222.4 513.6,222.8 520.8,224.7 528.1,225.6 535.4,227.2 542.6,228.6 549.9,230.1 557.1,230.1 564.4,229.5 571.6,229.0 578.9,229.3 586.2,230.2 593.4,230.3 600.7,229.6 607.9,228.3 615.2,226.4 622.4,224.3 629.7,222.3 637.0,219.4 644.2,217.3 651.5,216.8 658.7,216.4 666.0,215.1 673.2,214.2 680.5,215.0 687.8,215.1 695.0,215.4 702.3,216.3 709.5,217.4 716.8,218.2 724.0,219.6 731.3,221.6 738.6,224.2 745.8,226.5 753.1,229.0 760.3,231.3 767.6,234.9 774.8,241.2 782.1,247.2 789.4,253.2 796.6,258.7 803.9,264.4 811.1,270.4 818.4,276.8 825.6,282.0 832.9,287.2 840.2,293.4 847.4,299.7 854.7,307.0 861.9,314.9 869.2,322.3 876.4,327.5 883.7,332.1 891.0,338.2 898.2,342.5 905.5,347.2 912.7,351.2 920.0,353.5 927.2,356.2 934.5,358.4 941.8,359.6 949.0,359.6 956.3,358.3 963.5,356.4 970.8,354.5 978.0,353.9 985.3,352.0 992.6,350.1 999.8,348.7 1007.1,347.9 1014.3,348.1 1021.6,350.3 1028.8,351.3 1036.1,352.1 1043.4,353.0 1050.6,353.5 1057.9,354.4 1065.1,354.7 1072.4,356.1 1079.6,357.5 1086.9,360.8 1094.1,364.1 1101.4,367.7 1108.7,371.6 1115.9,374.8 1123.2,377.8 1130.4,379.6 1137.7,381.7 1144.9,383.0 1152.2,383.5 1159.5,383.8 1166.7,383.6 1174.0,384.2 1181.2,385.0 1188.5,387.2 1195.7,389.0 1203.0,391.4 1210.3,393.7 1217.5,395.1 1224.8,395.6 1232.0,395.4 1239.3,396.3 1246.5,397.0 1253.8,396.6 1261.1,396.6 1268.3,395.1 1275.6,395.0 1282.8,394.4 1290.1,393.9 1297.3,392.3 1304.6,392.3 1311.9,392.4 1319.1,392.6 1326.4,395.1 1333.6,396.8 1340.9,399.6 1348.1,402.1 1355.4,404.3 1362.7,407.8 1369.9,410.6 1377.2,411.1 1384.4,412.3 1391.7,414.2 1398.9,416.9 1406.2,419.5 1413.5,424.7 1420.7,429.1 1428.0,433.4 1435.2,437.2 1442.5,440.2" fill="none" stroke="#ff00ff" stroke-width="1.25" stroke-linejoin="round"/>
<polyline points="5.6,141.0 12.9,135.7 20.1,129.9 27.4,124.0 34.6,117.9 41.9,112.7 49.1,110.0 56.4,107.2 63.7,103.0 70.9,98.2 78.2,94.3 85.4,88.8 92.7,83.2 99.9,78.2 107.2,73.0 114.5,68.5 121.7,66.4 129.0,64.9 136.2,65.9 143.5,67.0 150.7,67.6 158.0,74.8 165.3,85.2 172.5,96.9 179.8,114.6 187.0,129.7 194.3,142.2 201.5,153.8 208.8,161.3 216.1,168.6 223.3,175.1 230.6,178.3 237.8,180.3 245.1,179.7 252.3,174.4 259.6,170.0 266.9,165.8 274.1,163.0 281.4,162.2 288.6,161.4 295.9,161.6 303.1,160.9 310.4,159.7 317.7,159.1 324.9,158.6 332.2,157.9 339.4,157.9 346.7,157.1 353.9,157.9 361.2,164.2 368.4,172.2 375.7,178.1 383.0,185.2 390.2,190.6 397.5,194.8 404.7,199.6 412.0,205.8 419.2,212.1 426.5,217.4 433.8,216.0 441.0,213.0 448.3,212.4 455.5,210.9 462.8,213.0 470.0,217.4 477.3,220.3 484.6,221.0 491.8,223.5 499.1,226.3 506.3,228.8 513.6,232.6 520.8,237.0 528.1,240.2 535.4,241.4 542.6,239.8 549.9,239.8 557.1,239.2 564.4,235.4 571.6,231.7 578.9,229.9 586.2,227.9 593.4,223.6 600.7,218.9 607.9,215.2 615.2,213.0 622.4,208.7 629.7,205.5 637.0,203.4 644.2,202.9 651.5,203.8 658.7,204.8 666.0,206.5 673.2,209.5 680.5,214.7 687.8,217.2 695.0,222.1 702.3,227.1 709.5,231.3 716.8,233.6 724.0,235.4 731.3,238.3 738.6,241.8 745.8,243.5 753.1,243.3 760.3,245.4 767.6,247.6 774.8,255.3 782.1,263.1 789.4,272.9 796.6,281.9 803.9,290.5 811.1,298.9 818.4,310.0 825.6,320.8 832.9,329.1 840.2,339.1 847.4,344.1 854.7,350.9 861.9,356.8 869.2,362.7 876.4,364.5 883.7,365.2 891.0,366.5 898.2,364.3 905.5,365.2 912.7,363.3 920.0,362.9 927.2,361.6 934.5,360.0 941.8,356.5 949.0,354.7 956.3,351.4 963.5,346.3 970.8,344.7 978.0,342.6 985.3,340.8 992.6,337.4 999.8,335.7 1007.1,335.9 1014.3,339.7 1021.6,345.9 1028.8,351.3 1036.1,357.9 1043.4,361.2 1050.6,364.5 1057.9,367.9 1065.1,372.1 1072.4,376.4 1079.6,379.0 1086.9,381.9 1094.1,382.3 1101.4,384.1 1108.7,385.4 1115.9,388.4 1123.2,391.1 1130.4,391.3 1137.7,391.3 1144.9,389.5 1152.2,387.9 1159.5,385.8 1166.7,384.9 1174.0,384.2 1181.2,384.6 1188.5,386.0 1195.7,387.0 1203.0,391.5 1210.3,396.1 1217.5,400.8 1224.8,403.2 1232.0,405.0 1239.3,407.7 1246.5,409.8 1253.8,408.6 1261.1,407.2 1268.3,403.3 1275.6,398.5 1282.8,392.6 1290.1,387.1 1297.3,381.4 1304.6,379.7 1311.9,377.1 1319.1,375.4 1326.4,381.6 1333.6,386.5 1340.9,395.9 1348.1,405.8 1355.4,415.9 1362.7,428.5 1369.9,439.7 1377.2,442.5 1384.4,447.6 1391.7,453.1 1398.9,452.3 1406.2,452.5 1413.5,453.5 1420.7,452.5 1428.0,450.9 1435.2,446.0 1442.5,440.8" fill="none" stroke="#f0f000" stroke-width="1.25" stroke-linejoin="round"/>
<polyline points="5.6,121.0 12.9,117.8 20.1,113.6 27.4,109.2 34.6,104.4 41.9,104.4 49.1,102.3 56.4,100.7 63.7,96.7 70.9,91.9 78.2,84.3 85.4,75.3 92.7,65.7 99.9,59.8 107.2,54.1 114.5,52.6 121.7,57.6 129.0,64.1 136.2,72.1 143.5,79.9 150.7,82.5 158.0,92.1 165.3,106.2 172.5,121.7 179.8,149.3 187.0,176.9 194.3,192.3 201.5,201.5 208.8,201.0 216.1,187.8 223.3,173.2 230.6,164.2 237.8,159.1 245.1,158.4 252.3,160.9 259.6,166.8 266.9,167.3 274.1,166.9 281.4,166.1 288.6,162.0 295.9,156.4 303.1,154.6 310.4,152.5 317.7,152.2 324.9,155.3 332.2,159.4 339.4,161.2 346.7,161.7 353.9,163.7 361.2,173.2 368.4,185.0 375.7,195.1 383.0,208.8 390.2,217.6 397.5,216.4 404.7,214.2 412.0,216.5 419.2,215.4 426.5,217.3 433.8,215.6 441.0,211.9 448.3,208.4 455.5,206.4 462.8,208.7 470.0,219.1 477.3,228.7 484.6,233.6 491.8,240.7 499.1,244.0 506.3,238.5 513.6,236.4 520.8,240.3 528.1,239.8 535.4,238.8 542.6,241.1 549.9,243.2 557.1,238.0 564.4,231.0 571.6,224.7 578.9,218.6 586.2,212.6 593.4,209.2 600.7,206.8 607.9,205.8 615.2,207.3 622.4,204.9 629.7,201.7 637.0,199.9 644.2,199.9 651.5,200.2 658.7,204.8 666.0,211.3 673.2,219.0 680.5,229.5 687.8,234.1 695.0,239.4 702.3,243.0 709.5,243.7 716.8,237.7 724.0,236.7 731.3,237.2 738.6,240.7 745.8,243.4 753.1,248.9 760.3,254.0 767.6,258.0 774.8,269.9 782.1,282.9 789.4,296.8 796.6,309.8 803.9,323.0 811.1,328.0 818.4,337.0 825.6,344.7 832.9,348.4 840.2,355.3 847.4,360.1 854.7,364.7 861.9,368.9 869.2,377.0 876.4,373.7 883.7,370.3 891.0,368.4 898.2,359.6 905.5,353.5 912.7,352.9 920.0,355.4 927.2,354.8 934.5,360.3 941.8,359.5 949.0,356.4 956.3,347.3 963.5,337.8 970.8,329.0 978.0,325.6 985.3,325.1 992.6,327.5 999.8,333.6 1007.1,342.8 1014.3,353.8 1021.6,366.8 1028.8,375.1 1036.1,382.1 1043.4,379.7 1050.6,375.3 1057.9,369.1 1065.1,369.1 1072.4,370.8 1079.6,378.3 1086.9,388.5 1094.1,395.4 1101.4,399.1 1108.7,400.0 1115.9,398.5 1123.2,393.8 1130.4,387.2 1137.7,383.5 1144.9,378.9 1152.2,377.4 1159.5,377.7 1166.7,382.6 1174.0,384.9 1181.2,390.3 1188.5,394.5 1195.7,396.2 1203.0,400.4 1210.3,407.3 1217.5,411.3 1224.8,411.9 1232.0,413.8 1239.3,415.0 1246.5,412.3 1253.8,406.0 1261.1,402.4 1268.3,392.8 1275.6,382.0 1282.8,373.0 1290.1,368.2 1297.3,360.4 1304.6,366.5 1311.9,372.1 1319.1,377.8 1326.4,395.0 1333.6,412.6 1340.9,425.3 1348.1,439.5 1355.4,454.1 1362.7,462.0 1369.9,466.9 1377.2,459.6 1384.4,455.8 1391.7,452.1 1398.9,442.6 1406.2,438.1 1413.5,447.4 1420.7,449.3 1428.0,449.7 1435.2,449.4 1442.5,443.4" fill="none" stroke="#e0e0e0" stroke-width="1.25" stroke-linejoin="round"/>
<line x1="1222.8" y1="211" x2="1442" y2="247.5" stroke="#00c800" stroke-width="1.6"/>
<g stroke="#f4f400" stroke-width="1.4" fill="none">
<line x1="95" y1="32.3" x2="1467.7" y2="427.6"/>
<line x1="6" y1="32" x2="1467.7" y2="460.1"/>
<line x1="3" y1="97.3" x2="1425" y2="513.5"/>
<line x1="2" y1="424.5" x2="1467" y2="424.5"/>
</g>
<path d="M202.8 208.8 L210.60000000000002 215.3 L210.60000000000002 217.9 L205.95000000000002 217.9 L205.95000000000002 225.8 L199.65 225.8 L199.65 217.9 L195.0 217.9 L195.0 215.3 Z" fill="#ff0000"/>
<path d="M390.4 239 L398.2 245.5 L398.2 248.1 L393.54999999999995 248.1 L393.54999999999995 256 L387.25 256 L387.25 248.1 L382.59999999999997 248.1 L382.59999999999997 245.5 Z" fill="#ff0000"/>
<path d="M484.8 243.2 L492.6 249.7 L492.6 252.29999999999998 L487.95 252.29999999999998 L487.95 260.2 L481.65000000000003 260.2 L481.65000000000003 252.29999999999998 L477.0 252.29999999999998 L477.0 249.7 Z" fill="#ff0000"/>
<path d="M507.6 250.8 L515.4 257.3 L515.4 259.90000000000003 L510.75 259.90000000000003 L510.75 267.8 L504.45000000000005 267.8 L504.45000000000005 259.90000000000003 L499.8 259.90000000000003 L499.8 257.3 Z" fill="#ff0000"/>
<path d="M703 247.8 L710.8 254.3 L710.8 256.90000000000003 L706.15 256.90000000000003 L706.15 264.8 L699.85 264.8 L699.85 256.90000000000003 L695.2 256.90000000000003 L695.2 254.3 Z" fill="#ff0000"/>
<path d="M745.9 265.7 L753.6999999999999 272.2 L753.6999999999999 274.8 L749.05 274.8 L749.05 282.7 L742.75 282.7 L742.75 274.8 L738.1 274.8 L738.1 272.2 Z" fill="#ff0000"/>
<path d="M832.7 369.4 L840.5 375.9 L840.5 378.5 L835.85 378.5 L835.85 386.4 L829.5500000000001 386.4 L829.5500000000001 378.5 L824.9000000000001 378.5 L824.9000000000001 375.9 Z" fill="#ff0000"/>
<path d="M855.4 381.8 L863.1999999999999 388.3 L863.1999999999999 390.90000000000003 L858.55 390.90000000000003 L858.55 398.8 L852.25 398.8 L852.25 390.90000000000003 L847.6 390.90000000000003 L847.6 388.3 Z" fill="#ff0000"/>
<path d="M876.6 381 L884.4 387.5 L884.4 390.1 L879.75 390.1 L879.75 398 L873.45 398 L873.45 390.1 L868.8000000000001 390.1 L868.8000000000001 387.5 Z" fill="#ff0000"/>
<path d="M1029.5 405.6 L1037.3 412.1 L1037.3 414.70000000000005 L1032.65 414.70000000000005 L1032.65 422.6 L1026.35 422.6 L1026.35 414.70000000000005 L1021.7 414.70000000000005 L1021.7 412.1 Z" fill="#ff0000"/>
<path d="M1101.5 405.7 L1109.3 412.2 L1109.3 414.8 L1104.65 414.8 L1104.65 422.7 L1098.35 422.7 L1098.35 414.8 L1093.7 414.8 L1093.7 412.2 Z" fill="#ff0000"/>
<path d="M1195.6 410 L1203.3999999999999 416.5 L1203.3999999999999 419.1 L1198.75 419.1 L1198.75 427 L1192.4499999999998 427 L1192.4499999999998 419.1 L1187.8 419.1 L1187.8 416.5 Z" fill="#ff0000"/>
<path d="M1224.6 425.6 L1232.3999999999999 432.1 L1232.3999999999999 434.70000000000005 L1227.75 434.70000000000005 L1227.75 442.6 L1221.4499999999998 442.6 L1221.4499999999998 434.70000000000005 L1216.8 434.70000000000005 L1216.8 432.1 Z" fill="#ff0000"/>
<path d="M1247 426.8 L1254.8 433.3 L1254.8 435.90000000000003 L1250.15 435.90000000000003 L1250.15 443.8 L1243.85 443.8 L1243.85 435.90000000000003 L1239.2 435.90000000000003 L1239.2 433.3 Z" fill="#ff0000"/>
<path d="M24.8 82 L29.8 82 L29.8 90 L34.5 90 L27.3 98 L20.1 90 L24.8 90 Z" fill="none" stroke="#00e000" stroke-width="1.5"/>
<path d="M308.5 133 L313.5 133 L313.5 141 L318.2 141 L311 149 L303.8 141 L308.5 141 Z" fill="none" stroke="#00e000" stroke-width="1.5"/>
<path d="M605.5 179.3 L610.5 179.3 L610.5 187.3 L615.2 187.3 L608 195.3 L600.8 187.3 L605.5 187.3 Z" fill="none" stroke="#00e000" stroke-width="1.5"/>
<path d="M642.7 173 L647.7 173 L647.7 181 L652.4000000000001 181 L645.2 189 L638.0 181 L642.7 181 Z" fill="none" stroke="#00e000" stroke-width="1.5"/>
<path d="M975.7 303.7 L980.7 303.7 L980.7 311.7 L985.4000000000001 311.7 L978.2 319.7 L971.0 311.7 L975.7 311.7 Z" fill="none" stroke="#00e000" stroke-width="1.5"/>
<path d="M1302.7 351.8 L1307.7 351.8 L1307.7 359.8 L1312.4 359.8 L1305.2 367.8 L1298.0 359.8 L1302.7 359.8 Z" fill="none" stroke="#00e000" stroke-width="1.5"/>
<path d="M336.40000000000003 171.3 L342.2 171.3 L342.2 179.20000000000002 L346.8 179.20000000000002 L339.3 187.9 L331.8 179.20000000000002 L336.40000000000003 179.20000000000002 Z" fill="#00ff00"/>
<path d="M119 38.5 L132 41.5 M114 35 L117.5 42 M114.6 34.2 H119" stroke="#b0b0b0" stroke-width="1.3" fill="none"/>
<rect x="3.30" y="584.1" width="4.6" height="121.7" fill="#ff3232"/><rect x="10.56" y="607.1" width="4.6" height="98.7" fill="#ff3232"/><rect x="17.81" y="597.8" width="4.6" height="108.0" fill="#ff3232"/><rect x="25.07" y="615.7" width="4.6" height="90.1" fill="#ff3232"/><rect x="32.33" y="615.7" width="4.6" height="90.1" fill="#ff3232"/><rect x="39.59" y="585.7" width="4.6" height="120.1" fill="#54fcfc"/><rect x="46.84" y="596.3" width="4.6" height="109.5" fill="#ff3232"/><rect x="54.10" y="572.4" width="4.6" height="133.4" fill="#ff3232"/><rect x="61.36" y="594.0" width="4.6" height="111.8" fill="#ff3232"/><rect x="68.61" y="578.3" width="4.6" height="127.5" fill="#ff3232"/><rect x="75.87" y="593.4" width="4.6" height="112.4" fill="#ff3232"/><rect x="83.13" y="582.9" width="4.6" height="122.9" fill="#ff3232"/><rect x="90.38" y="575.2" width="4.6" height="130.6" fill="#ff3232"/><rect x="97.64" y="581.4" width="4.6" height="124.4" fill="#54fcfc"/><rect x="104.90" y="591.6" width="4.6" height="114.2" fill="#ff3232"/><rect x="112.15" y="584.4" width="4.6" height="121.4" fill="#54fcfc"/><rect x="119.41" y="609.5" width="4.6" height="96.3" fill="#54fcfc"/><rect x="126.67" y="599.0" width="4.6" height="106.8" fill="#ff3232"/><rect x="133.93" y="572.4" width="4.6" height="133.4" fill="#54fcfc"/><rect x="141.18" y="599.0" width="4.6" height="106.8" fill="#ff3232"/><rect x="148.44" y="594.0" width="4.6" height="111.8" fill="#ff3232"/><rect x="155.70" y="561.8" width="4.6" height="144.0" fill="#54fcfc"/><rect x="162.95" y="572.4" width="4.6" height="133.4" fill="#54fcfc"/><rect x="170.21" y="602.1" width="4.6" height="103.7" fill="#54fcfc"/><rect x="177.47" y="573.8" width="4.6" height="132.0" fill="#54fcfc"/><rect x="184.72" y="626.3" width="4.6" height="79.5" fill="#ff3232"/><rect x="191.98" y="627.5" width="4.6" height="78.3" fill="#ff3232"/><rect x="199.24" y="652.9" width="4.6" height="52.9" fill="#ff3232"/><rect x="206.50" y="633.7" width="4.6" height="72.1" fill="#ff3232"/><rect x="213.75" y="632.5" width="4.6" height="73.3" fill="#ff3232"/><rect x="221.01" y="608.3" width="4.6" height="97.5" fill="#ff3232"/><rect x="228.27" y="615.7" width="4.6" height="90.1" fill="#54fcfc"/><rect x="235.52" y="627.5" width="4.6" height="78.3" fill="#54fcfc"/><rect x="242.78" y="622.6" width="4.6" height="83.2" fill="#ff3232"/><rect x="250.04" y="628.8" width="4.6" height="77.0" fill="#ff3232"/><rect x="257.29" y="630.6" width="4.6" height="75.2" fill="#ff3232"/><rect x="264.55" y="605.2" width="4.6" height="100.6" fill="#ff3232"/><rect x="271.81" y="618.8" width="4.6" height="87.0" fill="#54fcfc"/><rect x="279.07" y="627.5" width="4.6" height="78.3" fill="#ff3232"/><rect x="286.32" y="618.8" width="4.6" height="87.0" fill="#ff3232"/><rect x="293.58" y="599.0" width="4.6" height="106.8" fill="#ff3232"/><rect x="300.84" y="614.5" width="4.6" height="91.3" fill="#54fcfc"/><rect x="308.09" y="625.0" width="4.6" height="80.8" fill="#54fcfc"/><rect x="315.35" y="629.4" width="4.6" height="76.4" fill="#ff3232"/><rect x="322.61" y="632.5" width="4.6" height="73.3" fill="#54fcfc"/><rect x="329.87" y="633.7" width="4.6" height="72.1" fill="#ff3232"/><rect x="337.12" y="633.7" width="4.6" height="72.1" fill="#ff3232"/><rect x="344.38" y="618.8" width="4.6" height="87.0" fill="#54fcfc"/><rect x="351.64" y="628.1" width="4.6" height="77.7" fill="#54fcfc"/><rect x="358.89" y="564.9" width="4.6" height="140.9" fill="#54fcfc"/><rect x="366.15" y="610.2" width="4.6" height="95.6" fill="#ff3232"/><rect x="373.41" y="608.3" width="4.6" height="97.5" fill="#ff3232"/><rect x="380.66" y="621.9" width="4.6" height="83.9" fill="#54fcfc"/><rect x="387.92" y="617.6" width="4.6" height="88.2" fill="#ff3232"/><rect x="395.18" y="626.3" width="4.6" height="79.5" fill="#ff3232"/><rect x="402.44" y="615.7" width="4.6" height="90.1" fill="#54fcfc"/><rect x="409.69" y="627.5" width="4.6" height="78.3" fill="#ff3232"/><rect x="416.95" y="629.4" width="4.6" height="76.4" fill="#54fcfc"/><rect x="424.21" y="633.7" width="4.6" height="72.1" fill="#ff3232"/><rect x="431.46" y="619.5" width="4.6" height="86.3" fill="#ff3232"/><rect x="438.72" y="614.1" width="4.6" height="91.7" fill="#ff3232"/><rect x="445.98" y="629.0" width="4.6" height="76.8" fill="#54fcfc"/><rect x="453.23" y="639.5" width="4.6" height="66.3" fill="#54fcfc"/><rect x="460.49" y="627.1" width="4.6" height="78.7" fill="#54fcfc"/><rect x="467.75" y="627.7" width="4.6" height="78.1" fill="#54fcfc"/><rect x="475.00" y="623.4" width="4.6" height="82.4" fill="#54fcfc"/><rect x="482.26" y="623.4" width="4.6" height="82.4" fill="#ff3232"/><rect x="489.52" y="625.2" width="4.6" height="80.6" fill="#54fcfc"/><rect x="496.78" y="636.4" width="4.6" height="69.4" fill="#ff3232"/><rect x="504.03" y="621.5" width="4.6" height="84.3" fill="#ff3232"/><rect x="511.29" y="639.5" width="4.6" height="66.3" fill="#ff3232"/><rect x="518.55" y="636.4" width="4.6" height="69.4" fill="#54fcfc"/><rect x="525.80" y="637.6" width="4.6" height="68.2" fill="#54fcfc"/><rect x="533.06" y="636.4" width="4.6" height="69.4" fill="#54fcfc"/><rect x="540.32" y="633.9" width="4.6" height="71.9" fill="#ff3232"/><rect x="547.58" y="643.8" width="4.6" height="62.0" fill="#54fcfc"/><rect x="554.83" y="633.9" width="4.6" height="71.9" fill="#ff3232"/><rect x="562.09" y="629.0" width="4.6" height="76.8" fill="#ff3232"/><rect x="569.35" y="642.6" width="4.6" height="63.2" fill="#54fcfc"/><rect x="576.60" y="637.6" width="4.6" height="68.2" fill="#ff3232"/><rect x="583.86" y="637.6" width="4.6" height="68.2" fill="#54fcfc"/><rect x="591.12" y="637.6" width="4.6" height="68.2" fill="#ff3232"/><rect x="598.37" y="640.7" width="4.6" height="65.1" fill="#ff3232"/><rect x="605.63" y="639.5" width="4.6" height="66.3" fill="#54fcfc"/><rect x="612.89" y="645.7" width="4.6" height="60.1" fill="#54fcfc"/><rect x="620.15" y="635.2" width="4.6" height="70.6" fill="#ff3232"/><rect x="627.40" y="620.3" width="4.6" height="85.5" fill="#ff3232"/><rect x="634.66" y="630.8" width="4.6" height="75.0" fill="#ff3232"/><rect x="641.92" y="624.6" width="4.6" height="81.2" fill="#54fcfc"/><rect x="649.17" y="641.4" width="4.6" height="64.4" fill="#54fcfc"/><rect x="656.43" y="639.5" width="4.6" height="66.3" fill="#54fcfc"/><rect x="663.69" y="637.6" width="4.6" height="68.2" fill="#54fcfc"/><rect x="670.94" y="636.4" width="4.6" height="69.4" fill="#54fcfc"/><rect x="678.20" y="626.5" width="4.6" height="79.3" fill="#54fcfc"/><rect x="685.46" y="635.2" width="4.6" height="70.6" fill="#ff3232"/><rect x="692.72" y="637.6" width="4.6" height="68.2" fill="#54fcfc"/><rect x="699.97" y="645.7" width="4.6" height="60.1" fill="#ff3232"/><rect x="707.23" y="643.8" width="4.6" height="62.0" fill="#ff3232"/><rect x="714.49" y="642.6" width="4.6" height="63.2" fill="#ff3232"/><rect x="721.74" y="641.5" width="4.6" height="64.3" fill="#54fcfc"/><rect x="729.00" y="635.2" width="4.6" height="70.6" fill="#54fcfc"/><rect x="736.26" y="648.8" width="4.6" height="57.0" fill="#54fcfc"/><rect x="743.51" y="646.9" width="4.6" height="58.9" fill="#ff3232"/><rect x="750.77" y="643.2" width="4.6" height="62.6" fill="#54fcfc"/><rect x="758.03" y="645.1" width="4.6" height="60.7" fill="#ff3232"/><rect x="765.29" y="630.8" width="4.6" height="75.0" fill="#54fcfc"/><rect x="772.54" y="587.4" width="4.6" height="118.4" fill="#54fcfc"/><rect x="779.80" y="630.8" width="4.6" height="75.0" fill="#ff3232"/><rect x="787.06" y="625.9" width="4.6" height="79.9" fill="#54fcfc"/><rect x="794.31" y="640.1" width="4.6" height="65.7" fill="#ff3232"/><rect x="801.57" y="642.6" width="4.6" height="63.2" fill="#54fcfc"/><rect x="808.83" y="640.1" width="4.6" height="65.7" fill="#ff3232"/><rect x="816.08" y="639.5" width="4.6" height="66.3" fill="#54fcfc"/><rect x="823.34" y="644.5" width="4.6" height="61.3" fill="#54fcfc"/><rect x="830.60" y="642.6" width="4.6" height="63.2" fill="#ff3232"/><rect x="837.86" y="635.2" width="4.6" height="70.6" fill="#54fcfc"/><rect x="845.11" y="632.7" width="4.6" height="73.1" fill="#ff3232"/><rect x="852.37" y="641.4" width="4.6" height="64.4" fill="#54fcfc"/><rect x="859.63" y="639.5" width="4.6" height="66.3" fill="#54fcfc"/><rect x="866.88" y="635.5" width="4.6" height="70.3" fill="#ff3232"/><rect x="874.14" y="642.6" width="4.6" height="63.2" fill="#ff3232"/><rect x="881.40" y="643.8" width="4.6" height="62.0" fill="#ff3232"/><rect x="888.65" y="641.4" width="4.6" height="64.4" fill="#54fcfc"/><rect x="895.91" y="629.0" width="4.6" height="76.8" fill="#ff3232"/><rect x="903.17" y="643.8" width="4.6" height="62.0" fill="#54fcfc"/><rect x="910.43" y="650.0" width="4.6" height="55.8" fill="#54fcfc"/><rect x="917.68" y="650.0" width="4.6" height="55.8" fill="#54fcfc"/><rect x="924.94" y="643.2" width="4.6" height="62.6" fill="#54fcfc"/><rect x="932.20" y="646.9" width="4.6" height="58.9" fill="#54fcfc"/><rect x="939.45" y="630.2" width="4.6" height="75.6" fill="#ff3232"/><rect x="946.71" y="616.0" width="4.6" height="89.8" fill="#ff3232"/><rect x="953.97" y="587.4" width="4.6" height="118.4" fill="#ff3232"/><rect x="961.22" y="619.0" width="4.6" height="86.8" fill="#54fcfc"/><rect x="968.48" y="618.4" width="4.6" height="87.4" fill="#54fcfc"/><rect x="975.74" y="630.2" width="4.6" height="75.6" fill="#54fcfc"/><rect x="983.00" y="627.1" width="4.6" height="78.7" fill="#54fcfc"/><rect x="990.25" y="643.8" width="4.6" height="62.0" fill="#ff3232"/><rect x="997.51" y="627.7" width="4.6" height="78.1" fill="#54fcfc"/><rect x="1004.77" y="616.0" width="4.6" height="89.8" fill="#54fcfc"/><rect x="1012.02" y="639.5" width="4.6" height="66.3" fill="#54fcfc"/><rect x="1019.28" y="638.3" width="4.6" height="67.5" fill="#54fcfc"/><rect x="1026.54" y="628.3" width="4.6" height="77.5" fill="#ff3232"/><rect x="1033.79" y="629.0" width="4.6" height="76.8" fill="#54fcfc"/><rect x="1041.05" y="627.7" width="4.6" height="78.1" fill="#ff3232"/><rect x="1048.31" y="642.6" width="4.6" height="63.2" fill="#ff3232"/><rect x="1055.56" y="639.5" width="4.6" height="66.3" fill="#ff3232"/><rect x="1062.82" y="648.8" width="4.6" height="57.0" fill="#ff3232"/><rect x="1070.08" y="645.7" width="4.6" height="60.1" fill="#54fcfc"/><rect x="1077.34" y="643.2" width="4.6" height="62.6" fill="#ff3232"/><rect x="1084.59" y="646.9" width="4.6" height="58.9" fill="#54fcfc"/><rect x="1091.85" y="648.8" width="4.6" height="57.0" fill="#ff3232"/><rect x="1099.11" y="646.9" width="4.6" height="58.9" fill="#ff3232"/><rect x="1106.36" y="656.2" width="4.6" height="49.6" fill="#54fcfc"/><rect x="1113.62" y="654.4" width="4.6" height="51.4" fill="#ff3232"/><rect x="1120.88" y="653.1" width="4.6" height="52.7" fill="#ff3232"/><rect x="1128.13" y="637.0" width="4.6" height="68.8" fill="#ff3232"/><rect x="1135.39" y="644.5" width="4.6" height="61.3" fill="#54fcfc"/><rect x="1142.65" y="653.1" width="4.6" height="52.7" fill="#54fcfc"/><rect x="1149.91" y="648.8" width="4.6" height="57.0" fill="#54fcfc"/><rect x="1157.16" y="650.4" width="4.6" height="55.4" fill="#54fcfc"/><rect x="1164.42" y="651.3" width="4.6" height="54.5" fill="#ff3232"/><rect x="1171.68" y="648.8" width="4.6" height="57.0" fill="#ff3232"/><rect x="1178.93" y="650.7" width="4.6" height="55.1" fill="#54fcfc"/><rect x="1186.19" y="654.4" width="4.6" height="51.4" fill="#54fcfc"/><rect x="1193.45" y="651.9" width="4.6" height="53.9" fill="#ff3232"/><rect x="1200.70" y="652.5" width="4.6" height="53.3" fill="#54fcfc"/><rect x="1207.96" y="653.1" width="4.6" height="52.7" fill="#54fcfc"/><rect x="1215.22" y="658.7" width="4.6" height="47.1" fill="#54fcfc"/><rect x="1222.48" y="650.7" width="4.6" height="55.1" fill="#ff3232"/><rect x="1229.73" y="654.4" width="4.6" height="51.4" fill="#54fcfc"/><rect x="1236.99" y="658.7" width="4.6" height="47.1" fill="#54fcfc"/><rect x="1244.25" y="645.7" width="4.6" height="60.1" fill="#ff3232"/><rect x="1251.50" y="632.1" width="4.6" height="73.7" fill="#ff3232"/><rect x="1258.76" y="648.2" width="4.6" height="57.6" fill="#54fcfc"/><rect x="1266.02" y="624.6" width="4.6" height="81.2" fill="#ff3232"/><rect x="1273.27" y="648.2" width="4.6" height="57.6" fill="#ff3232"/><rect x="1280.53" y="633.9" width="4.6" height="71.9" fill="#ff3232"/><rect x="1287.79" y="641.4" width="4.6" height="64.4" fill="#54fcfc"/><rect x="1295.05" y="638.3" width="4.6" height="67.5" fill="#ff3232"/><rect x="1302.30" y="627.7" width="4.6" height="78.1" fill="#54fcfc"/><rect x="1309.56" y="645.7" width="4.6" height="60.1" fill="#ff3232"/><rect x="1316.82" y="646.9" width="4.6" height="58.9" fill="#ff3232"/><rect x="1324.07" y="603.6" width="4.6" height="102.2" fill="#54fcfc"/><rect x="1331.33" y="617.2" width="4.6" height="88.6" fill="#ff3232"/><rect x="1338.59" y="643.8" width="4.6" height="62.0" fill="#54fcfc"/><rect x="1345.84" y="643.8" width="4.6" height="62.0" fill="#54fcfc"/><rect x="1353.10" y="638.3" width="4.6" height="67.5" fill="#54fcfc"/><rect x="1360.36" y="640.7" width="4.6" height="65.1" fill="#54fcfc"/><rect x="1367.62" y="629.0" width="4.6" height="76.8" fill="#ff3232"/><rect x="1374.87" y="596.1" width="4.6" height="109.7" fill="#ff3232"/><rect x="1382.13" y="614.1" width="4.6" height="91.7" fill="#54fcfc"/><rect x="1389.39" y="623.4" width="4.6" height="82.4" fill="#ff3232"/><rect x="1396.64" y="621.5" width="4.6" height="84.3" fill="#ff3232"/><rect x="1403.90" y="622.8" width="4.6" height="83.0" fill="#54fcfc"/><rect x="1411.16" y="636.4" width="4.6" height="69.4" fill="#54fcfc"/><rect x="1418.41" y="620.3" width="4.6" height="85.5" fill="#ff3232"/><rect x="1425.67" y="612.8" width="4.6" height="93.0" fill="#ff3232"/><rect x="1432.93" y="602.3" width="4.6" height="103.5" fill="#54fcfc"/><rect x="1440.19" y="589.9" width="4.6" height="115.9" fill="#ff3232"/>
<polyline points="5.6,612.8 12.9,610.9 20.1,608.1 27.4,607.0 34.6,606.0 41.9,600.6 49.1,600.5 56.4,597.9 63.7,597.5 70.9,595.5 78.2,596.4 85.4,594.0 92.7,591.8 99.9,588.3 107.2,585.9 114.5,585.8 121.7,587.1 129.0,589.8 136.2,587.6 143.5,589.7 150.7,589.7 158.0,587.6 165.3,587.3 172.5,589.4 179.8,587.6 187.0,591.8 194.3,593.6 201.5,599.0 208.8,605.1 216.1,608.5 223.3,609.9 230.6,615.3 237.8,620.8 245.1,622.9 252.3,628.4 259.6,628.8 266.9,626.6 274.1,623.2 281.4,622.5 288.6,621.2 295.9,620.2 303.1,620.1 310.4,619.9 317.7,620.6 324.9,620.9 332.2,621.2 339.4,624.1 346.7,624.1 353.9,624.1 361.2,618.8 368.4,619.9 375.7,619.3 383.0,618.9 390.2,617.8 397.5,617.1 404.7,615.3 412.0,614.7 419.2,615.8 426.5,616.3 433.8,621.8 441.0,622.2 448.3,624.3 455.5,626.0 462.8,627.0 470.0,627.1 477.3,627.9 484.6,627.5 491.8,627.1 499.1,627.3 506.3,627.5 513.6,630.1 520.8,630.8 528.1,630.6 535.4,631.5 542.6,632.2 549.9,634.2 557.1,635.3 564.4,635.6 571.6,636.3 578.9,637.9 586.2,637.7 593.4,637.8 600.7,638.1 607.9,638.4 615.2,639.6 622.4,638.7 629.7,637.4 637.0,637.6 644.2,635.8 651.5,636.1 658.7,636.3 666.0,636.3 673.2,635.9 680.5,634.6 687.8,633.5 695.0,633.8 702.3,636.3 709.5,637.6 716.8,639.4 724.0,639.4 731.3,639.0 738.6,640.1 745.8,641.2 753.1,642.8 760.3,643.8 767.6,643.2 774.8,637.3 782.1,636.0 789.4,634.4 796.6,634.2 803.9,635.0 811.1,634.1 818.4,633.3 825.6,633.5 832.9,633.2 840.2,633.7 847.4,638.2 854.7,639.3 861.9,640.6 869.2,640.2 876.4,640.2 883.7,640.5 891.0,640.7 898.2,639.2 905.5,639.3 912.7,640.8 920.0,642.5 927.2,642.7 934.5,643.4 941.8,642.9 949.0,640.2 956.3,634.6 963.5,632.3 970.8,631.3 978.0,629.9 985.3,627.6 992.6,627.0 999.8,625.5 1007.1,622.4 1014.3,623.3 1021.6,625.5 1028.8,629.6 1036.1,630.6 1043.4,631.6 1050.6,632.8 1057.9,634.0 1065.1,634.5 1072.4,636.3 1079.6,639.1 1086.9,639.8 1094.1,640.8 1101.4,642.7 1108.7,645.4 1115.9,648.1 1123.2,649.1 1130.4,648.9 1137.7,648.5 1144.9,649.2 1152.2,649.8 1159.5,650.1 1166.7,650.4 1174.0,650.6 1181.2,650.0 1188.5,650.0 1195.7,649.9 1203.0,651.4 1210.3,652.3 1217.5,652.9 1224.8,653.0 1232.0,653.4 1239.3,654.2 1246.5,653.9 1253.8,652.0 1261.1,651.4 1268.3,648.7 1275.6,648.2 1282.8,646.3 1290.1,644.6 1297.3,643.3 1304.6,640.7 1311.9,639.4 1319.1,639.5 1326.4,636.6 1333.6,633.5 1340.9,635.5 1348.1,635.0 1355.4,635.5 1362.7,635.4 1369.9,634.5 1377.2,631.3 1384.4,628.1 1391.7,625.8 1398.9,627.6 1406.2,628.1 1413.5,627.4 1420.7,625.1 1428.0,622.5 1435.2,618.7 1442.5,614.8" fill="none" stroke="#f0f000" stroke-width="1.25" stroke-linejoin="round"/>
<polyline points="5.6,596.1 12.9,597.9 20.1,597.8 27.4,601.4 34.6,604.9 41.9,605.2 49.1,603.0 56.4,598.0 63.7,593.6 70.9,586.1 78.2,587.7 85.4,585.0 92.7,585.6 99.9,583.0 107.2,585.7 114.5,583.9 121.7,589.2 129.0,594.0 136.2,592.2 143.5,593.7 150.7,595.6 158.0,586.0 165.3,580.7 172.5,586.7 179.8,581.6 187.0,588.1 194.3,601.2 201.5,617.3 208.8,623.6 216.1,635.4 223.3,631.8 230.6,629.4 237.8,624.3 245.1,622.1 252.3,621.4 259.6,625.8 266.9,623.7 274.1,622.0 281.4,623.0 288.6,621.0 295.9,614.7 303.1,616.5 310.4,617.8 317.7,618.1 324.9,620.9 332.2,627.8 339.4,631.7 346.7,630.4 353.9,630.2 361.2,616.6 368.4,611.9 375.7,606.9 383.0,607.5 390.2,605.4 397.5,617.7 404.7,618.8 412.0,622.6 419.2,624.1 426.5,627.3 433.8,626.0 441.0,625.6 448.3,625.9 455.5,628.0 462.8,626.6 470.0,628.3 477.3,630.1 484.6,629.0 491.8,626.2 499.1,628.0 506.3,626.8 513.6,630.0 520.8,632.6 528.1,635.1 535.4,635.1 542.6,637.6 549.9,638.4 557.1,637.9 564.4,636.2 571.6,637.4 578.9,638.2 586.2,636.9 593.4,637.7 600.7,640.0 607.9,639.4 615.2,641.0 622.4,640.5 629.7,637.1 637.0,635.1 644.2,632.1 651.5,631.3 658.7,632.1 666.0,635.6 673.2,636.7 680.5,637.1 687.8,635.8 695.0,635.5 702.3,637.1 709.5,638.6 716.8,641.8 724.0,643.0 731.3,642.6 738.6,643.2 745.8,643.8 753.1,643.9 760.3,644.6 767.6,643.8 774.8,631.5 782.1,628.3 789.4,624.8 796.6,623.8 803.9,626.2 811.1,636.7 818.4,638.4 825.6,642.2 832.9,642.7 840.2,641.2 847.4,639.7 854.7,640.1 861.9,639.1 869.2,637.7 876.4,639.1 883.7,641.4 891.0,641.4 898.2,639.3 905.5,640.9 912.7,642.4 920.0,643.6 927.2,644.0 934.5,647.6 941.8,644.9 949.0,638.1 956.3,625.5 963.5,620.7 970.8,615.0 978.0,615.0 985.3,617.2 992.6,628.5 999.8,630.2 1007.1,629.8 1014.3,631.6 1021.6,633.9 1028.8,630.8 1036.1,631.0 1043.4,633.4 1050.6,634.0 1057.9,634.2 1065.1,638.3 1072.4,641.7 1079.6,644.8 1086.9,645.6 1094.1,647.5 1101.4,647.1 1108.7,649.2 1115.9,651.4 1123.2,652.7 1130.4,650.3 1137.7,649.8 1144.9,649.2 1152.2,648.1 1159.5,647.6 1166.7,650.4 1174.0,651.3 1181.2,650.8 1188.5,651.9 1195.7,652.2 1203.0,652.5 1210.3,653.3 1217.5,654.9 1224.8,654.2 1232.0,654.7 1239.3,655.9 1246.5,654.4 1253.8,649.1 1261.1,648.6 1268.3,642.7 1275.6,640.6 1282.8,638.2 1290.1,640.1 1297.3,638.1 1304.6,638.7 1311.9,638.2 1319.1,640.8 1326.4,633.2 1333.6,629.0 1340.9,632.2 1348.1,631.9 1355.4,630.1 1362.7,637.6 1369.9,639.9 1377.2,630.4 1384.4,624.4 1391.7,621.5 1398.9,617.6 1406.2,616.4 1413.5,624.4 1420.7,625.7 1428.0,623.6 1435.2,619.7 1442.5,613.1" fill="none" stroke="#e0e0e0" stroke-width="1.25" stroke-linejoin="round"/>
<svg x="0" y="709" width="1467" height="175" overflow="hidden"><g transform="translate(0,-709)">
<polyline points="5.6,745.9 12.9,749.9 20.1,756.5 27.4,758.4 34.6,758.6 41.9,780.0 49.1,769.3 56.4,774.4 63.7,765.4 70.9,766.9 78.2,760.5 85.4,757.1 92.7,759.3 99.9,769.4 107.2,769.7 114.5,794.5 121.7,831.4 129.0,855.7 136.2,868.0 143.5,852.7 150.7,831.7 158.0,860.6 165.3,874.4 172.5,871.8 179.8,865.4 187.0,855.4 194.3,843.6 201.5,834.1 208.8,815.9 216.1,798.0 223.3,778.9 230.6,762.2 237.8,765.9 245.1,768.9 252.3,789.8 259.6,800.3 266.9,803.9 274.1,821.7 281.4,814.0 288.6,789.8 295.9,765.0 303.1,767.8 310.4,788.3 317.7,799.3 324.9,831.0 332.2,840.6 339.4,832.8 346.7,830.4 353.9,838.9 361.2,848.8 368.4,853.4 375.7,842.8 383.0,853.8 390.2,842.8 397.5,833.5 404.7,831.5 412.0,837.1 419.2,826.2 426.5,817.5 433.8,770.7 441.0,754.8 448.3,768.0 455.5,796.4 462.8,838.4 470.0,866.4 477.3,856.4 484.6,835.6 491.8,847.1 499.1,853.3 506.3,823.2 513.6,813.4 520.8,826.0 528.1,821.8 535.4,817.3 542.6,798.8 549.9,799.9 557.1,761.4 564.4,748.6 571.6,748.4 578.9,742.1 586.2,752.1 593.4,752.0 600.7,750.6 607.9,768.2 615.2,790.9 622.4,771.5 629.7,764.7 637.0,762.6 644.2,809.7 651.5,850.4 658.7,873.9 666.0,873.8 673.2,878.1 680.5,883.7 687.8,858.1 695.0,854.2 702.3,841.6 709.5,816.0 716.8,795.5 724.0,787.6 731.3,815.1 738.6,839.8 745.8,824.2 753.1,844.3 760.3,852.5 767.6,860.6 774.8,859.5 782.1,853.3 789.4,862.9 796.6,854.5 803.9,860.3 811.1,854.3 818.4,859.2 825.6,865.2 832.9,842.9 840.2,850.5 847.4,836.3 854.7,838.7 861.9,850.4 869.2,833.3 876.4,790.0 883.7,760.6 891.0,774.0 898.2,749.1 905.5,748.1 912.7,749.8 920.0,767.3 927.2,782.4 934.5,826.0 941.8,790.4 949.0,764.4 956.3,752.5 963.5,753.4 970.8,767.3 978.0,778.1 985.3,787.8 992.6,785.3 999.8,810.1 1007.1,840.8 1014.3,866.1 1021.6,877.6 1028.8,854.3 1036.1,851.8 1043.4,826.4 1050.6,815.0 1057.9,813.8 1065.1,793.1 1072.4,818.7 1079.6,833.3 1086.9,859.4 1094.1,847.7 1101.4,822.0 1108.7,820.5 1115.9,808.6 1123.2,802.3 1130.4,762.9 1137.7,751.2 1144.9,754.1 1152.2,772.2 1159.5,812.8 1166.7,834.6 1174.0,818.8 1181.2,849.4 1188.5,866.4 1195.7,864.5 1203.0,874.8 1210.3,870.2 1217.5,870.7 1224.8,846.5 1232.0,837.1 1239.3,852.9 1246.5,810.9 1253.8,773.1 1261.1,758.8 1268.3,740.7 1275.6,740.9 1282.8,744.9 1290.1,757.4 1297.3,750.8 1304.6,794.1 1311.9,836.4 1319.1,847.8 1326.4,868.7 1333.6,862.1 1340.9,868.5 1348.1,875.4 1355.4,867.9 1362.7,874.0 1369.9,846.9 1377.2,802.8 1384.4,787.9 1391.7,777.3 1398.9,775.5 1406.2,775.6 1413.5,799.8 1420.7,803.3 1428.0,793.9 1435.2,799.4 1442.5,766.0" fill="none" stroke="#ff00ff" stroke-width="1.3" stroke-linejoin="round"/>
<polyline points="5.6,771.4 12.9,768.4 20.1,766.7 27.4,765.5 34.6,764.5 41.9,766.7 49.1,767.1 56.4,768.1 63.7,767.7 70.9,767.6 78.2,766.6 85.4,765.2 92.7,764.4 99.9,765.1 107.2,765.8 114.5,769.9 121.7,778.7 129.0,789.7 136.2,800.9 143.5,808.3 150.7,811.6 158.0,818.6 165.3,826.6 172.5,833.0 179.8,837.7 187.0,840.2 194.3,840.7 201.5,839.7 208.8,836.3 216.1,830.9 223.3,823.4 230.6,814.7 237.8,807.7 245.1,802.2 252.3,800.4 259.6,800.4 266.9,800.9 274.1,803.9 281.4,805.3 288.6,803.1 295.9,797.6 303.1,793.4 310.4,792.6 317.7,793.6 324.9,798.9 332.2,804.9 339.4,808.9 346.7,812.0 353.9,815.8 361.2,820.5 368.4,825.2 375.7,827.7 383.0,831.4 390.2,833.1 397.5,833.1 404.7,832.9 412.0,833.5 419.2,832.5 426.5,830.3 433.8,821.8 441.0,812.2 448.3,805.9 455.5,804.6 462.8,809.4 470.0,817.5 477.3,823.1 484.6,824.9 491.8,828.0 499.1,831.7 506.3,830.4 513.6,828.0 520.8,827.7 528.1,826.9 535.4,825.5 542.6,821.7 549.9,818.6 557.1,810.4 564.4,801.6 571.6,794.0 578.9,786.6 586.2,781.7 593.4,777.4 600.7,773.6 607.9,772.8 615.2,775.4 622.4,774.8 629.7,773.4 637.0,771.9 644.2,777.3 651.5,787.7 658.7,800.0 666.0,810.6 673.2,820.2 680.5,829.3 687.8,833.4 695.0,836.4 702.3,837.1 709.5,834.1 716.8,828.6 724.0,822.7 731.3,821.6 738.6,824.2 745.8,824.2 753.1,827.1 760.3,830.7 767.6,835.0 774.8,838.5 782.1,840.6 789.4,843.8 796.6,845.3 803.9,847.5 811.1,848.4 818.4,850.0 825.6,852.2 832.9,850.8 840.2,850.8 847.4,848.7 854.7,847.3 861.9,847.7 869.2,845.7 876.4,837.7 883.7,826.7 891.0,819.2 898.2,809.2 905.5,800.4 912.7,793.2 920.0,789.5 927.2,788.5 934.5,793.8 941.8,793.4 949.0,789.2 956.3,784.0 963.5,779.6 970.8,777.9 978.0,777.9 985.3,779.3 992.6,780.2 999.8,784.4 1007.1,792.5 1014.3,803.0 1021.6,813.7 1028.8,819.5 1036.1,824.1 1043.4,824.4 1050.6,823.1 1057.9,821.7 1065.1,817.7 1072.4,817.8 1079.6,820.0 1086.9,825.6 1094.1,828.8 1101.4,827.8 1108.7,826.8 1115.9,824.2 1123.2,821.0 1130.4,812.7 1137.7,803.9 1144.9,796.8 1152.2,793.3 1159.5,796.1 1166.7,801.6 1174.0,804.0 1181.2,810.5 1188.5,818.5 1195.7,825.1 1203.0,832.2 1210.3,837.6 1217.5,842.3 1224.8,842.9 1232.0,842.1 1239.3,843.6 1246.5,839.0 1253.8,829.5 1261.1,819.4 1268.3,808.2 1275.6,798.6 1282.8,790.9 1290.1,786.1 1297.3,781.1 1304.6,782.9 1311.9,790.6 1319.1,798.7 1326.4,808.7 1333.6,816.4 1340.9,823.8 1348.1,831.2 1355.4,836.4 1362.7,841.8 1369.9,842.5 1377.2,836.8 1384.4,829.8 1391.7,822.3 1398.9,815.7 1406.2,809.9 1413.5,808.5 1420.7,807.7 1428.0,805.8 1435.2,804.9 1442.5,799.3" fill="none" stroke="#ffff00" stroke-width="1.3" stroke-linejoin="round"/>
<polyline points="5.6,762.9 12.9,762.2 20.1,763.3 27.4,763.1 34.6,762.5 41.9,771.1 49.1,767.8 56.4,770.2 63.7,766.9 70.9,767.4 78.2,764.5 85.4,762.5 92.7,762.7 99.9,766.5 107.2,767.1 114.5,778.1 121.7,796.3 129.0,811.7 136.2,823.2 143.5,823.1 150.7,818.3 158.0,832.6 165.3,842.5 172.5,845.9 179.8,846.9 187.0,845.2 194.3,841.7 201.5,837.8 208.8,829.5 216.1,819.9 223.3,808.6 230.6,797.2 237.8,793.8 245.1,791.1 252.3,796.9 259.6,800.3 266.9,801.9 274.1,809.8 281.4,808.2 288.6,798.7 295.9,786.8 303.1,784.8 310.4,791.2 317.7,795.5 324.9,809.6 332.2,816.8 339.4,816.9 346.7,818.1 353.9,823.5 361.2,829.9 368.4,834.6 375.7,832.7 383.0,838.9 390.2,836.3 397.5,833.3 404.7,832.4 412.0,834.7 419.2,830.4 426.5,826.0 433.8,804.8 441.0,793.1 448.3,793.3 455.5,801.9 462.8,819.1 470.0,833.8 477.3,834.2 484.6,828.5 491.8,834.4 499.1,838.9 506.3,828.0 513.6,823.1 520.8,827.1 528.1,825.2 535.4,822.8 542.6,814.0 549.9,812.3 557.1,794.1 564.4,783.9 571.6,778.8 578.9,771.7 586.2,771.8 593.4,769.0 600.7,765.9 607.9,771.3 615.2,780.6 622.4,773.7 629.7,770.5 637.0,768.8 644.2,788.1 651.5,808.6 658.7,824.6 666.0,831.6 673.2,839.5 680.5,847.4 687.8,841.6 695.0,842.3 702.3,838.6 709.5,828.1 716.8,817.6 724.0,811.0 731.3,819.5 738.6,829.4 745.8,824.2 753.1,832.9 760.3,838.0 767.6,843.5 774.8,845.5 782.1,844.9 789.4,850.2 796.6,848.4 803.9,851.7 811.1,850.4 818.4,853.1 825.6,856.5 832.9,848.2 840.2,850.7 847.4,844.6 854.7,844.4 861.9,848.6 869.2,841.6 876.4,821.8 883.7,804.7 891.0,804.1 898.2,789.1 905.5,783.0 912.7,778.7 920.0,782.1 927.2,786.5 934.5,804.6 941.8,792.4 949.0,780.9 956.3,773.5 963.5,770.9 970.8,774.4 978.0,778.0 985.3,782.2 992.6,781.9 999.8,793.0 1007.1,808.6 1014.3,824.0 1021.6,835.0 1028.8,831.1 1036.1,833.3 1043.4,825.1 1050.6,820.4 1057.9,819.1 1065.1,809.5 1072.4,818.1 1079.6,824.4 1086.9,836.9 1094.1,835.1 1101.4,825.9 1108.7,824.7 1115.9,819.0 1123.2,814.8 1130.4,796.1 1137.7,786.3 1144.9,782.6 1152.2,786.3 1159.5,801.6 1166.7,812.6 1174.0,809.0 1181.2,823.5 1188.5,834.5 1195.7,838.2 1203.0,846.4 1210.3,848.5 1217.5,851.8 1224.8,844.1 1232.0,840.4 1239.3,846.7 1246.5,829.6 1253.8,810.7 1261.1,799.2 1268.3,785.7 1275.6,779.4 1282.8,775.6 1290.1,776.6 1297.3,771.0 1304.6,786.7 1311.9,805.9 1319.1,815.1 1326.4,828.7 1333.6,831.6 1340.9,838.7 1348.1,845.9 1355.4,846.9 1362.7,852.5 1369.9,844.0 1377.2,825.5 1384.4,815.9 1391.7,807.3 1398.9,802.3 1406.2,798.5 1413.5,805.6 1420.7,806.3 1428.0,801.8 1435.2,803.0 1442.5,788.2" fill="none" stroke="#e0e0e0" stroke-width="1.3" stroke-linejoin="round"/>
</g></svg>
<text x="210.8" y="24.7" font-family="Liberation Sans" font-size="17.5px" fill="#f0f0f0" stroke="#000" stroke-width="0.3" letter-spacing="0.11">MA5: 2599.13</text>
<text x="329.3" y="24.7" font-family="Liberation Sans" font-size="17.5px" fill="#ffff00" stroke="#000" stroke-width="0.3" letter-spacing="0.22">MA10: 2605.13</text>
<text x="458" y="24.7" font-family="Liberation Sans" font-size="17.5px" fill="#ff00ff" stroke="#000" stroke-width="0.3" letter-spacing="0.15">MA20: 2605.90</text>
<text x="587.6" y="24.7" font-family="Liberation Sans" font-size="17.5px" fill="#00f000" stroke="#000" stroke-width="0.3" letter-spacing="-0.25">MA250: 3073.71</text>
<path d="M198.4 9.7 L206.3 16.0 L206.3 18.299999999999997 L201.5 18.299999999999997 L201.5 25.299999999999997 L195.3 25.299999999999997 L195.3 18.299999999999997 L190.5 18.299999999999997 L190.5 16.0 Z" fill="#ff0000"/>
<text x="2.3" y="551.3" font-family="Liberation Sans" font-size="17.5px" fill="#f0f0f0" stroke="#000" stroke-width="0.3" letter-spacing="0.35">VOLUME: 225026928.00</text>
<text x="212.5" y="551.3" font-family="Liberation Sans" font-size="17.5px" fill="#f0f0f0" stroke="#000" stroke-width="0.3" letter-spacing="0.25">MA5: 181481088.00</text>
<text x="383.5" y="551.3" font-family="Liberation Sans" font-size="17.5px" fill="#ffff00" stroke="#000" stroke-width="0.3" letter-spacing="0.32">MA10: 177866688.00</text>
<text x="1.6" y="726.7" font-family="Liberation Sans" font-size="17.5px" fill="#c8c8c8" stroke="#000" stroke-width="0.3" letter-spacing="0.49">KDJ(9,3,3)</text>
<text x="96" y="726.7" font-family="Liberation Sans" font-size="17.5px" fill="#c8c8c8" stroke="#000" stroke-width="0.3" letter-spacing="0.34">K: 71.50</text>
<text x="171.7" y="726.7" font-family="Liberation Sans" font-size="17.5px" fill="#ffff00" stroke="#000" stroke-width="0.3" letter-spacing="0.37">D: 60.70</text>
<text x="247" y="726.7" font-family="Liberation Sans" font-size="17.5px" fill="#ff00ff" stroke="#000" stroke-width="0.3" letter-spacing="0.57">J: 93.09</text>
<path d="M10.1 9.8 V26.6 M10.1 16.1 H18 M3.7 26.6 H19.6 M21.9 10 L23.6 12.2 M21.7 16.3 H23.3 V25.3 L26 23.2 M26.2 11.5 H37.7 M32.8 11.5 V26.6 M32.8 19.3 H37.5 M28.1 17.2 V26.6 M26 26.6 H37.9 M39.6 14.7 H45.3 M43.4 9.8 V26.6 L41.5 26.2 M39.6 21 L45.3 18.8 M47.7 9.8 V16 H56 V14.8 M48.9 13.8 L55.7 10.2 M47.7 18.3 H56 V26.8 M47.7 18.3 V26.8 H56 M47.7 20.6 H56 M47.7 23.2 H56 M59.5 10.8 L60.3 12.2 M65.6 10.8 L64.8 12.2 M62.6 9.8 V15.5 M57.6 14.6 H66.3 M58 19 L66.3 14.6 M59 16 L65.5 19 M57.3 22.1 H67.5 M62.2 19.5 L58 26.7 M58.8 23.6 L64.8 26.7 M68.6 9.6 L67.8 19.1 M67.8 14.6 H73.9 M72.2 15.7 L67.1 26.7 M68.6 21.4 L73.9 26.7 M81.1 11.2 Q77.2 19 81.1 27 M83.7 11.3 V26.5 M95.8 11.3 V26.5 M83.7 11.3 H95.8 M83.7 17.8 H95.8 M83.7 24.8 H95.8 M103.6 10 L100.2 14.9 L104.7 14.6 L99.8 20.6 L105 21 M99.8 25.5 L104.7 23.6 M107.3 14.6 H115.7 M107.3 18.3 H115.7 M110.7 10 L114.3 26.2 L115.8 23.5 M113.8 19.5 L106.2 26.7 M113 10.3 L114.5 12 M119.1 23.6 H120.6 M125.9 10.2 L126.8 12 M134.5 10.2 L133.6 12 M122 13.4 H138 M124.2 16 V26.7 M124.2 16 H128.9 V26.7 L127.8 26.4 M124.2 18.8 H128.9 M124.2 21.6 H128.9 M133.2 16 V23.6 M136.4 16 V26.8 L134.8 26.5 M142.9 10.2 H156.5 M142.9 10.2 L140.3 13.8 M143.7 12.3 H154.3 V19.1 H143.7 Z M143.7 14.9 H154.3 M143.7 17.2 H154.3 M145.6 19.8 L141.4 24.4 M143.7 21.7 H153.9 L141.8 26.7 M146 23.2 L156.1 26.7 M161.6 10 V27 M158 14.7 H163.7 M161.3 16.5 L158.4 21.4 M162 17.8 L163.6 19.6 M164.5 11.5 H172.8 L172 18.3 L164.5 26.7 M166.7 18.3 L173.9 26.7 M176.2 11.2 Q181 19 176.5 26.9" fill="none" stroke="#b8b8b8" stroke-width="1.15" stroke-linecap="square"/>
<rect x="0" y="0" width="2" height="887" fill="#ececec"/>
</svg></body></html>
